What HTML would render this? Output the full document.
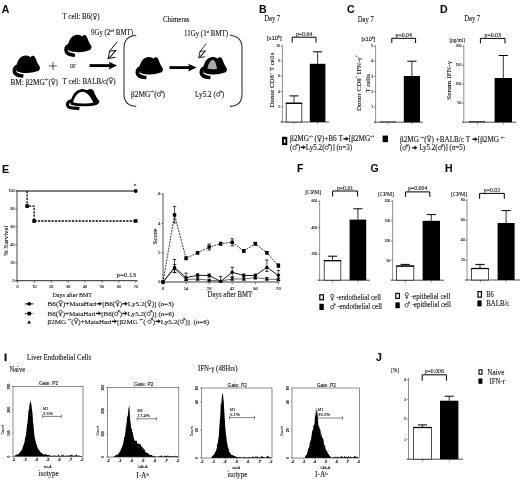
<!DOCTYPE html>
<html><head><meta charset="utf-8"><title>Figure</title>
<style>
html,body{margin:0;padding:0;background:#fff;}
body{width:520px;height:480px;overflow:hidden;}
svg{display:block;}
text{font-family:"Liberation Serif", serif;fill:#111;stroke:#111;stroke-width:0.1px;}
text.s{font-family:"Liberation Sans", sans-serif;}
</style></head><body>
<svg width="520" height="480" viewBox="0 0 520 480">
<rect width="520" height="480" fill="#fff"/>
<filter id="bl" x="0" y="0" width="520" height="480" filterUnits="userSpaceOnUse"><feGaussianBlur stdDeviation="0.45"/></filter>
<g filter="url(#bl)">
<defs>
<g id="mb"><path d="M5.6,11.4 C2.6,12 1.6,15.4 3,18 C4.6,20.8 8,20.4 11.4,21" fill="none" stroke="#000" stroke-width="3.7"/>
<path d="M3.9,12.4 C4.6,8.5 6.6,3 10,1.5 C12.4,0.2 15.2,0.1 17.2,1.3 L18.7,2.2 C19.4,0.5 21.8,0.2 22.6,1.6 C23.8,3.4 24.4,6.2 26,9 C27.2,10.8 28,11.8 27.9,12.9 C27.8,14.6 27,15.6 25.8,16.1 C22.6,17.4 18,18 14.9,18 C11,18 8,17.6 6,16.8 C4.2,16 3.5,14 3.9,12.4 Z" fill="#000"/><path d="M5.8,17.4 C8,18.6 11,18.9 13.4,18.9" fill="none" stroke="#fff" stroke-width="0.9"/></g>
</defs>
<text x="1.8" y="12.6" font-size="10.5" class="s" font-weight="bold" fill="#000" stroke="none" >A</text>
<g transform="translate(92.59,19.4) scale(1.119,1.184)" fill="none" stroke="#111" stroke-width="0.62"><circle cx="2.05" cy="-3.55" r="1.45"/><path d="M2.05,-2.1 V0.5 M0.95,-0.8 H3.15"/></g>
<text font-size="7.4"><tspan x="62.30" y="19.4" textLength="30.29" lengthAdjust="spacingAndGlyphs">T cell: B6(</tspan><tspan x="97.17" y="19.4" textLength="2.33" lengthAdjust="spacingAndGlyphs">)</tspan></text>
<text font-size="7.4"><tspan x="91.00" y="35.4" textLength="19.30" lengthAdjust="spacingAndGlyphs">9Gy (2</tspan><tspan x="110.30" y="32.29" font-size="4.07" textLength="3.78" lengthAdjust="spacingAndGlyphs">nd</tspan><tspan x="114.08" y="35.4" textLength="18.92" lengthAdjust="spacingAndGlyphs"> BMT)</tspan></text>
<text x="163" y="21.8" font-size="7.4" textLength="26.5" lengthAdjust="spacingAndGlyphs" >Chimeras</text>
<text font-size="7.4"><tspan x="184.00" y="36.4" textLength="22.65" lengthAdjust="spacingAndGlyphs">11Gy (1</tspan><tspan x="206.65" y="33.29" font-size="4.07" textLength="2.51" lengthAdjust="spacingAndGlyphs">st</tspan><tspan x="209.16" y="36.4" textLength="18.84" lengthAdjust="spacingAndGlyphs"> BMT)</tspan></text>
<use href="#mb" x="12" y="55"/>
<use href="#mb" x="63.6" y="34.2"/>
<line x1="49.2" y1="66" x2="56.8" y2="66" stroke="#222" stroke-width="0.8" />
<line x1="53" y1="62.2" x2="53" y2="69.8" stroke="#222" stroke-width="0.8" />
<text x="70" y="67.6" font-size="7.4" textLength="5.6" lengthAdjust="spacingAndGlyphs" >or</text>
<line x1="89.5" y1="65.6" x2="111.1" y2="65.6" stroke="#000" stroke-width="2.9" />
<path d="M117.1,65.6 L108.69999999999999,61.699999999999996 L110.3,65.6 L108.69999999999999,69.6 Z" fill="#000"/>
<g transform="translate(116.8,42.3) scale(1.0)" fill="none" stroke="#111" stroke-width="1.0" stroke-linejoin="round" stroke-linecap="round"><path d="M0,0 L-7.2,8.9 L-0.6,8.1 L-8.6,16.3 L-7.2,8.9 M-8.6,16.3 L-1.8,15 M-1.9,9 L-6.4,15"/></g>
<g transform="translate(50.82,84.6) scale(1.161,1.184)" fill="none" stroke="#111" stroke-width="0.62"><circle cx="2.05" cy="-3.55" r="1.45"/><path d="M2.05,-2.1 V0.5 M0.95,-0.8 H3.15"/></g>
<text font-size="7.4"><tspan x="10.50" y="84.6" textLength="34.14" lengthAdjust="spacingAndGlyphs">BM: β2MG</tspan><tspan x="44.64" y="81.49" font-size="4.07" textLength="3.77" lengthAdjust="spacingAndGlyphs">-/-</tspan><tspan x="48.41" y="84.6" textLength="2.42" lengthAdjust="spacingAndGlyphs">(</tspan><tspan x="55.58" y="84.6" textLength="2.42" lengthAdjust="spacingAndGlyphs">)</tspan></text>
<g transform="translate(108.55,83.6) scale(1.124,1.184)" fill="none" stroke="#111" stroke-width="0.62"><circle cx="2.05" cy="-3.55" r="1.45"/><path d="M2.05,-2.1 V0.5 M0.95,-0.8 H3.15"/></g>
<text font-size="7.4"><tspan x="62.50" y="83.6" textLength="46.05" lengthAdjust="spacingAndGlyphs">T cell: BALB/c(</tspan><tspan x="113.16" y="83.6" textLength="2.34" lengthAdjust="spacingAndGlyphs">)</tspan></text>
<g transform="translate(66.4,88.2)"><path d="M5,12.6 C1.2,13 0.2,16 1.8,18.2 C3.6,20.4 8,19.6 13,20.4" fill="none" stroke="#000" stroke-width="3.2"/><path d="M5.5,13 C7,8 10,3.4 14.5,2.4 C17.5,1.8 20,3 22,4.6 C25,7 29,10 31.5,13.4 C31,15.6 28,16 24,16.4 C18,17 10,16.6 5.5,15.4 Z" fill="#fff" stroke="#000" stroke-width="2.8" stroke-linejoin="round"/><path d="M19.6,3.6 C21.2,0.4 25.6,0 27,2.4 C28.2,4.8 29,8 32.4,12.6 C33.2,14.8 31.4,16.6 28,16.6 C26,12 23,7 19.6,3.6 Z" fill="#000"/></g>
<path d="M136.2,35.3 C128,36 124,40 124,48 V94 C124,102 128,106 136.2,106.4" fill="none" stroke="#333" stroke-width="1.1"/>
<path d="M230,35.3 C238,36 242,40 242,48 V94 C242,102 238,106 230,106.4" fill="none" stroke="#333" stroke-width="1.1"/>
<use href="#mb" x="135" y="56.5"/>
<line x1="169.5" y1="67.6" x2="190.6" y2="67.6" stroke="#000" stroke-width="2.9" />
<path d="M196.6,67.6 L188.2,63.699999999999996 L189.79999999999998,67.6 L188.2,71.6 Z" fill="#000"/>
<g transform="translate(206.2,43.8) scale(0.86)" fill="none" stroke="#111" stroke-width="1.0" stroke-linejoin="round" stroke-linecap="round"><path d="M0,0 L-7.2,8.9 L-0.6,8.1 L-8.6,16.3 L-7.2,8.9 M-8.6,16.3 L-1.8,15 M-1.9,9 L-6.4,15"/></g>
<use href="#mb" x="199" y="56.5"/>
<path d="M207.4,68.6 C208.2,64.6 210,60.6 212.6,59.8 C215,60.2 216.2,64 217,68.8 C213.8,69.6 210.4,69.4 207.4,68.6 Z" fill="#aaa"/>
<g transform="translate(156.64,96.6) scale(1.181,1.184)" fill="none" stroke="#111" stroke-width="0.62"><circle cx="1.95" cy="-1.75" r="1.5"/><path d="M3.0,-2.85 L4.5,-4.5 M3.1,-4.6 H4.6 V-3.1"/></g>
<text font-size="7.4"><tspan x="131.00" y="96.6" textLength="19.34" lengthAdjust="spacingAndGlyphs">β2MG</tspan><tspan x="150.34" y="93.49" font-size="4.07" textLength="3.83" lengthAdjust="spacingAndGlyphs">-/-</tspan><tspan x="154.18" y="96.6" textLength="2.46" lengthAdjust="spacingAndGlyphs">(</tspan><tspan x="162.54" y="96.6" textLength="2.46" lengthAdjust="spacingAndGlyphs">)</tspan></text>
<g transform="translate(215.94,96.6) scale(1.138,1.184)" fill="none" stroke="#111" stroke-width="0.62"><circle cx="1.95" cy="-1.75" r="1.5"/><path d="M3.0,-2.85 L4.5,-4.5 M3.1,-4.6 H4.6 V-3.1"/></g>
<text font-size="7.4"><tspan x="195.00" y="96.6" textLength="20.94" lengthAdjust="spacingAndGlyphs">Ly5.2 (</tspan><tspan x="221.63" y="96.6" textLength="2.37" lengthAdjust="spacingAndGlyphs">)</tspan></text>
<text x="259" y="12.6" font-size="10.5" class="s" font-weight="bold" fill="#000" stroke="none" >B</text>
<text x="264.2" y="20.8" font-size="7.2" textLength="16" lengthAdjust="spacingAndGlyphs" >Day 7</text>
<text x="266.8" y="40.4" font-size="5.4" class="s" textLength="14.9" lengthAdjust="spacingAndGlyphs" fill="#222" stroke="none" >[x10<tspan font-size="3.2" dy="-2">6</tspan><tspan dy="2" font-size="0.1">&#8203;</tspan>]</text>
<path d="M292.2,42.6 V37.2 H316 V42.6" fill="none" stroke="#000" stroke-width="1.0"/>
<text x="304.1" y="35.7" font-size="5.8" text-anchor="middle" fill="#222" stroke="none" >p=0.04</text>
<line x1="282.4" y1="45.3" x2="282.4" y2="122" stroke="#444" stroke-width="0.6" />
<line x1="280.9" y1="122" x2="329" y2="122" stroke="#222" stroke-width="0.8" />
<line x1="280.59999999999997" y1="45.8" x2="282.4" y2="45.8" stroke="#444" stroke-width="0.6" />
<text x="280.0" y="47.0" font-size="3.4" class="s" text-anchor="end" fill="#888" stroke="none" >10</text>
<line x1="280.59999999999997" y1="61" x2="282.4" y2="61" stroke="#444" stroke-width="0.6" />
<text x="280.0" y="62.2" font-size="3.4" class="s" text-anchor="end" fill="#888" stroke="none" >8</text>
<line x1="280.59999999999997" y1="76.2" x2="282.4" y2="76.2" stroke="#444" stroke-width="0.6" />
<text x="280.0" y="77.4" font-size="3.4" class="s" text-anchor="end" fill="#888" stroke="none" >6</text>
<line x1="280.59999999999997" y1="91.5" x2="282.4" y2="91.5" stroke="#444" stroke-width="0.6" />
<text x="280.0" y="92.7" font-size="3.4" class="s" text-anchor="end" fill="#888" stroke="none" >4</text>
<line x1="280.59999999999997" y1="106.8" x2="282.4" y2="106.8" stroke="#444" stroke-width="0.6" />
<text x="280.0" y="108.0" font-size="3.4" class="s" text-anchor="end" fill="#888" stroke="none" >2</text>
<line x1="280.59999999999997" y1="122" x2="282.4" y2="122" stroke="#444" stroke-width="0.6" />
<text x="280.0" y="123.2" font-size="3.4" class="s" text-anchor="end" fill="#888" stroke="none" ></text>
<line x1="294.1" y1="122" x2="294.1" y2="124.2" stroke="#444" stroke-width="0.6" />
<line x1="317.6" y1="122" x2="317.6" y2="124.2" stroke="#444" stroke-width="0.6" />
<line x1="294.0" y1="95.9" x2="294.0" y2="102.8" stroke="#000" stroke-width="0.8" />
<line x1="289.4" y1="95.9" x2="298.6" y2="95.9" stroke="#000" stroke-width="1.0" />
<rect x="286.2" y="103.2" width="15.599999999999977" height="18.800000000000004" fill="#fff" stroke="#222" stroke-width="0.8"/>
<line x1="285.8" y1="103.3" x2="302.2" y2="103.3" stroke="#000" stroke-width="1.3" />
<line x1="317.6" y1="51.8" x2="317.6" y2="63.8" stroke="#000" stroke-width="0.8" />
<line x1="313.0" y1="51.8" x2="322.20000000000005" y2="51.8" stroke="#000" stroke-width="1.0" />
<rect x="309.8" y="63.8" width="15.599999999999966" height="58.2" fill="#000"/>
<text x="274" y="80" font-size="6.7" text-anchor="middle" textLength="55" lengthAdjust="spacingAndGlyphs" transform="rotate(-90 274 80)" >Donor CD8<tspan font-size="3.8" dy="-2.4">+</tspan><tspan dy="2.4" font-size="0.1">&#8203;</tspan> T cells</text>
<text x="347" y="12.6" font-size="10.5" class="s" font-weight="bold" fill="#000" stroke="none" >C</text>
<text x="357.8" y="21.6" font-size="7.2" textLength="16" lengthAdjust="spacingAndGlyphs" >Day 7</text>
<text x="361.4" y="40.9" font-size="5.2" class="s" textLength="14" lengthAdjust="spacingAndGlyphs" fill="#222" stroke="none" >[x10<tspan font-size="3.2" dy="-2">6</tspan><tspan dy="2" font-size="0.1">&#8203;</tspan>]</text>
<path d="M391.8,43 V38.3 H415.6 V43" fill="none" stroke="#000" stroke-width="1.0"/>
<text x="403.70000000000005" y="36.8" font-size="5.8" text-anchor="middle" fill="#222" stroke="none" >p=0.04</text>
<line x1="375.6" y1="45.5" x2="375.6" y2="122.2" stroke="#444" stroke-width="0.6" />
<line x1="374.1" y1="122.2" x2="423" y2="122.2" stroke="#222" stroke-width="0.8" />
<line x1="373.8" y1="46" x2="375.6" y2="46" stroke="#444" stroke-width="0.6" />
<text x="373.20000000000005" y="47.2" font-size="3.4" class="s" text-anchor="end" fill="#888" stroke="none" >5</text>
<line x1="373.8" y1="61.2" x2="375.6" y2="61.2" stroke="#444" stroke-width="0.6" />
<text x="373.20000000000005" y="62.400000000000006" font-size="3.4" class="s" text-anchor="end" fill="#888" stroke="none" >4</text>
<line x1="373.8" y1="76.4" x2="375.6" y2="76.4" stroke="#444" stroke-width="0.6" />
<text x="373.20000000000005" y="77.60000000000001" font-size="3.4" class="s" text-anchor="end" fill="#888" stroke="none" >3</text>
<line x1="373.8" y1="91.7" x2="375.6" y2="91.7" stroke="#444" stroke-width="0.6" />
<text x="373.20000000000005" y="92.9" font-size="3.4" class="s" text-anchor="end" fill="#888" stroke="none" >2</text>
<line x1="373.8" y1="107" x2="375.6" y2="107" stroke="#444" stroke-width="0.6" />
<text x="373.20000000000005" y="108.2" font-size="3.4" class="s" text-anchor="end" fill="#888" stroke="none" >1</text>
<line x1="373.8" y1="122.2" x2="375.6" y2="122.2" stroke="#444" stroke-width="0.6" />
<text x="373.20000000000005" y="123.4" font-size="3.4" class="s" text-anchor="end" fill="#888" stroke="none" ></text>
<line x1="388" y1="122.2" x2="388" y2="124.4" stroke="#444" stroke-width="0.6" />
<line x1="412" y1="122.2" x2="412" y2="124.4" stroke="#444" stroke-width="0.6" />
<rect x="380" y="121.6" width="16" height="0.6000000000000085" fill="#000"/>
<line x1="411.9" y1="61.2" x2="411.9" y2="76" stroke="#000" stroke-width="0.8" />
<line x1="407.29999999999995" y1="61.2" x2="416.5" y2="61.2" stroke="#000" stroke-width="1.0" />
<rect x="403.8" y="76" width="16.19999999999999" height="46.2" fill="#000"/>
<text x="360.8" y="83.1" font-size="6.7" text-anchor="middle" textLength="56" lengthAdjust="spacingAndGlyphs" transform="rotate(-90 360.8 83.1)" >Donor CD8<tspan font-size="3.8" dy="-2.4">+</tspan><tspan dy="2.4" font-size="0.1">&#8203;</tspan> IFN-γ<tspan font-size="3.8" dy="-2.4">+</tspan><tspan dy="2.4" font-size="0.1">&#8203;</tspan></text>
<text x="370" y="83.3" font-size="6.7" text-anchor="middle" textLength="18.3" lengthAdjust="spacingAndGlyphs" transform="rotate(-90 370 83.3)" >T cells</text>
<text x="440" y="12.6" font-size="10.5" class="s" font-weight="bold" fill="#000" stroke="none" >D</text>
<text x="464.2" y="21.3" font-size="7.2" textLength="16" lengthAdjust="spacingAndGlyphs" >Day 7</text>
<text x="449.5" y="41.8" font-size="5.6" textLength="15.4" lengthAdjust="spacingAndGlyphs" >[pg/ml]</text>
<path d="M480.4,43.4 V38.4 H505 V43.4" fill="none" stroke="#000" stroke-width="1.0"/>
<text x="492.7" y="36.9" font-size="5.8" text-anchor="middle" fill="#222" stroke="none" >p=0.03</text>
<line x1="463.8" y1="45.5" x2="463.8" y2="122.2" stroke="#444" stroke-width="0.6" />
<line x1="462.3" y1="122.2" x2="516" y2="122.2" stroke="#222" stroke-width="0.8" />
<line x1="462.0" y1="46.2" x2="463.8" y2="46.2" stroke="#444" stroke-width="0.6" />
<text x="461.40000000000003" y="47.400000000000006" font-size="3.4" class="s" text-anchor="end" fill="#888" stroke="none" >200</text>
<line x1="462.0" y1="65.2" x2="463.8" y2="65.2" stroke="#444" stroke-width="0.6" />
<text x="461.40000000000003" y="66.4" font-size="3.4" class="s" text-anchor="end" fill="#888" stroke="none" >150</text>
<line x1="462.0" y1="84.2" x2="463.8" y2="84.2" stroke="#444" stroke-width="0.6" />
<text x="461.40000000000003" y="85.4" font-size="3.4" class="s" text-anchor="end" fill="#888" stroke="none" >100</text>
<line x1="462.0" y1="103.2" x2="463.8" y2="103.2" stroke="#444" stroke-width="0.6" />
<text x="461.40000000000003" y="104.4" font-size="3.4" class="s" text-anchor="end" fill="#888" stroke="none" >50</text>
<line x1="462.0" y1="122.2" x2="463.8" y2="122.2" stroke="#444" stroke-width="0.6" />
<text x="461.40000000000003" y="123.4" font-size="3.4" class="s" text-anchor="end" fill="#888" stroke="none" ></text>
<line x1="477.5" y1="122.2" x2="477.5" y2="124.4" stroke="#444" stroke-width="0.6" />
<line x1="503.6" y1="122.2" x2="503.6" y2="124.4" stroke="#444" stroke-width="0.6" />
<rect x="468.8" y="121.4" width="16.19999999999999" height="0.7999999999999972" fill="#000"/>
<line x1="503.3" y1="55.5" x2="503.3" y2="78" stroke="#000" stroke-width="0.8" />
<line x1="498.7" y1="55.5" x2="507.90000000000003" y2="55.5" stroke="#000" stroke-width="1.0" />
<rect x="494.6" y="78" width="17.399999999999977" height="44.2" fill="#000"/>
<text x="451" y="80.5" font-size="6.7" text-anchor="middle" textLength="39" lengthAdjust="spacingAndGlyphs" transform="rotate(-90 451 80.5)" >Serum IFN-γ</text>
<rect x="282" y="136.8" width="5.3" height="8.3" fill="#000"/>
<rect x="283.9" y="139.3" width="1.5" height="3.6" fill="#fff"/>
<g transform="translate(317.01,141.3) scale(1.161,1.184)" fill="none" stroke="#111" stroke-width="0.62"><circle cx="2.05" cy="-3.55" r="1.45"/><path d="M2.05,-2.1 V0.5 M0.95,-0.8 H3.15"/></g>
<g transform="translate(343.00,141.3) scale(1.161,1.184)" fill="none" stroke="#111" stroke-width="0.62"><path d="M0.3,-2.1 H3.4" stroke-width="1.25"/><path d="M5.0,-2.1 L2.2,-4.2 L3.0,-2.1 L2.2,0 Z" fill="#111" stroke="none"/></g>
<text font-size="7.4"><tspan x="290.00" y="141.3" textLength="19.01" lengthAdjust="spacingAndGlyphs">β2MG</tspan><tspan x="309.01" y="138.19" font-size="4.07" textLength="3.77" lengthAdjust="spacingAndGlyphs">-/-</tspan><tspan x="312.78" y="141.3" textLength="4.23" lengthAdjust="spacingAndGlyphs"> (</tspan><tspan x="321.77" y="141.3" textLength="21.22" lengthAdjust="spacingAndGlyphs">)+B6 T</tspan><tspan x="348.80" y="141.3" textLength="21.43" lengthAdjust="spacingAndGlyphs">[β2MG</tspan><tspan x="370.23" y="138.19" font-size="4.07" textLength="3.77" lengthAdjust="spacingAndGlyphs">-/-</tspan></text>
<g transform="translate(292.32,149.8) scale(1.114,1.184)" fill="none" stroke="#111" stroke-width="0.62"><circle cx="1.95" cy="-1.75" r="1.5"/><path d="M3.0,-2.85 L4.5,-4.5 M3.1,-4.6 H4.6 V-3.1"/></g>
<g transform="translate(300.21,149.8) scale(1.114,1.184)" fill="none" stroke="#111" stroke-width="0.62"><path d="M0.3,-2.1 H3.4" stroke-width="1.25"/><path d="M5.0,-2.1 L2.2,-4.2 L3.0,-2.1 L2.2,0 Z" fill="#111" stroke="none"/></g>
<g transform="translate(324.53,149.8) scale(1.114,1.184)" fill="none" stroke="#111" stroke-width="0.62"><circle cx="1.95" cy="-1.75" r="1.5"/><path d="M3.0,-2.85 L4.5,-4.5 M3.1,-4.6 H4.6 V-3.1"/></g>
<text font-size="7.4"><tspan x="290.00" y="149.8" textLength="2.32" lengthAdjust="spacingAndGlyphs">(</tspan><tspan x="297.89" y="149.8" textLength="2.32" lengthAdjust="spacingAndGlyphs">)</tspan><tspan x="305.78" y="149.8" textLength="18.75" lengthAdjust="spacingAndGlyphs">Ly5.2(</tspan><tspan x="330.10" y="149.8" textLength="21.90" lengthAdjust="spacingAndGlyphs">)] (n=3)</tspan></text>
<rect x="382.6" y="135.6" width="5.4" height="6.6" fill="#000"/>
<g transform="translate(426.74,141.7) scale(1.149,1.184)" fill="none" stroke="#111" stroke-width="0.62"><circle cx="2.05" cy="-3.55" r="1.45"/><path d="M2.05,-2.1 V0.5 M0.95,-0.8 H3.15"/></g>
<g transform="translate(472.01,141.7) scale(1.149,1.184)" fill="none" stroke="#111" stroke-width="0.62"><path d="M0.3,-2.1 H3.4" stroke-width="1.25"/><path d="M5.0,-2.1 L2.2,-4.2 L3.0,-2.1 L2.2,0 Z" fill="#111" stroke="none"/></g>
<text font-size="7.4"><tspan x="400.00" y="141.7" textLength="20.62" lengthAdjust="spacingAndGlyphs">β2MG </tspan><tspan x="420.62" y="138.59" font-size="4.07" textLength="3.73" lengthAdjust="spacingAndGlyphs">-/-</tspan><tspan x="424.35" y="141.7" textLength="2.39" lengthAdjust="spacingAndGlyphs">(</tspan><tspan x="431.45" y="141.7" textLength="40.56" lengthAdjust="spacingAndGlyphs">) +BALB/c T </tspan><tspan x="477.76" y="141.7" textLength="23.01" lengthAdjust="spacingAndGlyphs">[β2MG </tspan><tspan x="500.77" y="138.59" font-size="4.07" textLength="3.73" lengthAdjust="spacingAndGlyphs">-/-</tspan></text>
<g transform="translate(402.30,150.3) scale(1.106,1.184)" fill="none" stroke="#111" stroke-width="0.62"><circle cx="1.95" cy="-1.75" r="1.5"/><path d="M3.0,-2.85 L4.5,-4.5 M3.1,-4.6 H4.6 V-3.1"/></g>
<g transform="translate(411.86,150.3) scale(1.106,1.184)" fill="none" stroke="#111" stroke-width="0.62"><path d="M0.3,-2.1 H3.4" stroke-width="1.25"/><path d="M5.0,-2.1 L2.2,-4.2 L3.0,-2.1 L2.2,0 Z" fill="#111" stroke="none"/></g>
<g transform="translate(437.73,150.3) scale(1.106,1.184)" fill="none" stroke="#111" stroke-width="0.62"><circle cx="1.95" cy="-1.75" r="1.5"/><path d="M3.0,-2.85 L4.5,-4.5 M3.1,-4.6 H4.6 V-3.1"/></g>
<text font-size="7.4"><tspan x="400.00" y="150.3" textLength="2.30" lengthAdjust="spacingAndGlyphs">(</tspan><tspan x="407.83" y="150.3" textLength="4.03" lengthAdjust="spacingAndGlyphs">) </tspan><tspan x="417.39" y="150.3" textLength="20.34" lengthAdjust="spacingAndGlyphs"> Ly5.2(</tspan><tspan x="443.26" y="150.3" textLength="21.74" lengthAdjust="spacingAndGlyphs">)] (n=5)</tspan></text>
<text x="2" y="173" font-size="10.5" class="s" font-weight="bold" fill="#000" stroke="none" >E</text>
<line x1="17" y1="190" x2="17" y2="281.2" stroke="#111" stroke-width="0.8" />
<line x1="15.5" y1="280.7" x2="137.6" y2="280.7" stroke="#111" stroke-width="0.9" />
<line x1="15.2" y1="191.0" x2="17" y2="191.0" stroke="#333" stroke-width="0.6" />
<text x="14.6" y="192.3" font-size="3.6" class="s" text-anchor="end" fill="#444" stroke="none" >100</text>
<line x1="15.2" y1="208.94" x2="17" y2="208.94" stroke="#333" stroke-width="0.6" />
<text x="14.6" y="210.24" font-size="3.6" class="s" text-anchor="end" fill="#444" stroke="none" >80</text>
<line x1="15.2" y1="226.88" x2="17" y2="226.88" stroke="#333" stroke-width="0.6" />
<text x="14.6" y="228.18" font-size="3.6" class="s" text-anchor="end" fill="#444" stroke="none" >60</text>
<line x1="15.2" y1="244.82" x2="17" y2="244.82" stroke="#333" stroke-width="0.6" />
<text x="14.6" y="246.12" font-size="3.6" class="s" text-anchor="end" fill="#444" stroke="none" >40</text>
<line x1="15.2" y1="262.76" x2="17" y2="262.76" stroke="#333" stroke-width="0.6" />
<text x="14.6" y="264.06" font-size="3.6" class="s" text-anchor="end" fill="#444" stroke="none" >20</text>
<line x1="15.2" y1="280.7" x2="17" y2="280.7" stroke="#333" stroke-width="0.6" />
<text x="14.6" y="282.0" font-size="3.6" class="s" text-anchor="end" fill="#444" stroke="none" >0</text>
<line x1="17.5" y1="280.6" x2="17.5" y2="283" stroke="#333" stroke-width="0.6" />
<text x="17.5" y="288.4" font-size="3.6" class="s" text-anchor="middle" fill="#444" stroke="none" >0</text>
<line x1="34.4" y1="280.6" x2="34.4" y2="283" stroke="#333" stroke-width="0.6" />
<text x="34.4" y="288.4" font-size="3.6" class="s" text-anchor="middle" fill="#444" stroke="none" >10</text>
<line x1="51.3" y1="280.6" x2="51.3" y2="283" stroke="#333" stroke-width="0.6" />
<text x="51.3" y="288.4" font-size="3.6" class="s" text-anchor="middle" fill="#444" stroke="none" >20</text>
<line x1="68.19999999999999" y1="280.6" x2="68.19999999999999" y2="283" stroke="#333" stroke-width="0.6" />
<text x="68.19999999999999" y="288.4" font-size="3.6" class="s" text-anchor="middle" fill="#444" stroke="none" >30</text>
<line x1="85.1" y1="280.6" x2="85.1" y2="283" stroke="#333" stroke-width="0.6" />
<text x="85.1" y="288.4" font-size="3.6" class="s" text-anchor="middle" fill="#444" stroke="none" >40</text>
<line x1="102.0" y1="280.6" x2="102.0" y2="283" stroke="#333" stroke-width="0.6" />
<text x="102.0" y="288.4" font-size="3.6" class="s" text-anchor="middle" fill="#444" stroke="none" >50</text>
<line x1="118.89999999999999" y1="280.6" x2="118.89999999999999" y2="283" stroke="#333" stroke-width="0.6" />
<text x="118.89999999999999" y="288.4" font-size="3.6" class="s" text-anchor="middle" fill="#444" stroke="none" >60</text>
<line x1="135.79999999999998" y1="280.6" x2="135.79999999999998" y2="283" stroke="#333" stroke-width="0.6" />
<text x="135.79999999999998" y="288.4" font-size="3.6" class="s" text-anchor="middle" fill="#444" stroke="none" >70</text>
<line x1="17" y1="191" x2="135.7" y2="191" stroke="#000" stroke-width="1.0" />
<circle cx="135.7" cy="191" r="2" fill="#000"/>
<path d="M134.9,183.6 l1.1,2 h-2.2 z" fill="#000"/>
<path d="M27.1,191 V206.1 H34.1 V221 H135.7" fill="none" stroke="#000" stroke-width="1.3" stroke-dasharray="2.2,1.2"/>
<rect x="25.3" y="204.29999999999998" width="3.6" height="3.6" fill="#000"/>
<rect x="32.300000000000004" y="219.2" width="3.6" height="3.6" fill="#000"/>
<rect x="133.89999999999998" y="219.2" width="3.6" height="3.6" fill="#000"/>
<text x="116.6" y="277.2" font-size="6.6" textLength="19.2" lengthAdjust="spacingAndGlyphs" >p=0.13</text>
<text x="8" y="240.8" font-size="6.9" text-anchor="middle" textLength="30.4" lengthAdjust="spacingAndGlyphs" transform="rotate(-90 8 240.8)" >% Survival</text>
<text x="52.5" y="297.2" font-size="6.4" textLength="39.5" lengthAdjust="spacingAndGlyphs" >Days after BMT</text>
<line x1="163" y1="193.4" x2="163" y2="282.6" stroke="#222" stroke-width="0.8" />
<line x1="161.4" y1="282" x2="279.4" y2="282" stroke="#222" stroke-width="0.9" />
<line x1="161.2" y1="194.0" x2="163" y2="194.0" stroke="#333" stroke-width="0.6" />
<text x="160.4" y="195.4" font-size="3.8" class="s" text-anchor="end" fill="#444" stroke="none" >6</text>
<line x1="161.2" y1="223.35" x2="163" y2="223.35" stroke="#333" stroke-width="0.6" />
<text x="160.4" y="224.75" font-size="3.8" class="s" text-anchor="end" fill="#444" stroke="none" >4</text>
<line x1="161.2" y1="252.7" x2="163" y2="252.7" stroke="#333" stroke-width="0.6" />
<text x="160.4" y="254.1" font-size="3.8" class="s" text-anchor="end" fill="#444" stroke="none" >2</text>
<line x1="161.2" y1="282.05" x2="163" y2="282.05" stroke="#333" stroke-width="0.6" />
<text x="160.4" y="283.45" font-size="3.8" class="s" text-anchor="end" fill="#444" stroke="none" >0</text>
<line x1="163.0" y1="282" x2="163.0" y2="284.4" stroke="#333" stroke-width="0.6" />
<text x="163.0" y="290.3" font-size="4.6" text-anchor="middle" fill="#222" stroke="none" >0</text>
<line x1="186.07999999999998" y1="282" x2="186.07999999999998" y2="284.4" stroke="#333" stroke-width="0.6" />
<text x="186.07999999999998" y="290.3" font-size="4.6" text-anchor="middle" fill="#222" stroke="none" >14</text>
<line x1="209.16" y1="282" x2="209.16" y2="284.4" stroke="#333" stroke-width="0.6" />
<text x="209.16" y="290.3" font-size="4.6" text-anchor="middle" fill="#222" stroke="none" >28</text>
<line x1="232.24" y1="282" x2="232.24" y2="284.4" stroke="#333" stroke-width="0.6" />
<text x="232.24" y="290.3" font-size="4.6" text-anchor="middle" fill="#222" stroke="none" >42</text>
<line x1="255.32" y1="282" x2="255.32" y2="284.4" stroke="#333" stroke-width="0.6" />
<text x="255.32" y="290.3" font-size="4.6" text-anchor="middle" fill="#222" stroke="none" >56</text>
<line x1="278.4" y1="282" x2="278.4" y2="284.4" stroke="#333" stroke-width="0.6" />
<text x="278.4" y="290.3" font-size="4.6" text-anchor="middle" fill="#222" stroke="none" >70</text>
<path d="M163.0,282.0 L174.5,268.6 L186.1,279.6 L197.6,279.0 L209.2,280.2 L220.7,281.0 L232.2,279.0 L243.8,279.0 L255.3,277.6 L266.9,279.0 L278.4,279.6" fill="none" stroke="#000" stroke-width="0.6"/>
<line x1="174.54" y1="264.6" x2="174.54" y2="272.6" stroke="#000" stroke-width="0.7" />
<line x1="172.84" y1="264.6" x2="176.23999999999998" y2="264.6" stroke="#000" stroke-width="0.8" />
<line x1="172.84" y1="272.6" x2="176.23999999999998" y2="272.6" stroke="#000" stroke-width="0.8" />
<line x1="186.07999999999998" y1="278.1" x2="186.07999999999998" y2="280.6" stroke="#000" stroke-width="0.7" />
<line x1="184.38" y1="278.1" x2="187.77999999999997" y2="278.1" stroke="#000" stroke-width="0.8" />
<line x1="184.38" y1="280.6" x2="187.77999999999997" y2="280.6" stroke="#000" stroke-width="0.8" />
<line x1="197.62" y1="277.8" x2="197.62" y2="280" stroke="#000" stroke-width="0.7" />
<line x1="195.92000000000002" y1="277.8" x2="199.32" y2="277.8" stroke="#000" stroke-width="0.8" />
<line x1="195.92000000000002" y1="280" x2="199.32" y2="280" stroke="#000" stroke-width="0.8" />
<line x1="209.16" y1="279.2" x2="209.16" y2="281.2" stroke="#000" stroke-width="0.7" />
<line x1="207.46" y1="279.2" x2="210.85999999999999" y2="279.2" stroke="#000" stroke-width="0.8" />
<line x1="207.46" y1="281.2" x2="210.85999999999999" y2="281.2" stroke="#000" stroke-width="0.8" />
<line x1="232.24" y1="277.5" x2="232.24" y2="280" stroke="#000" stroke-width="0.7" />
<line x1="230.54000000000002" y1="277.5" x2="233.94" y2="277.5" stroke="#000" stroke-width="0.8" />
<line x1="230.54000000000002" y1="280" x2="233.94" y2="280" stroke="#000" stroke-width="0.8" />
<line x1="243.78" y1="277.8" x2="243.78" y2="280" stroke="#000" stroke-width="0.7" />
<line x1="242.08" y1="277.8" x2="245.48" y2="277.8" stroke="#000" stroke-width="0.8" />
<line x1="242.08" y1="280" x2="245.48" y2="280" stroke="#000" stroke-width="0.8" />
<line x1="255.32" y1="276.1" x2="255.32" y2="279.1" stroke="#000" stroke-width="0.7" />
<line x1="253.62" y1="276.1" x2="257.02" y2="276.1" stroke="#000" stroke-width="0.8" />
<line x1="253.62" y1="279.1" x2="257.02" y2="279.1" stroke="#000" stroke-width="0.8" />
<line x1="266.86" y1="277.5" x2="266.86" y2="280" stroke="#000" stroke-width="0.7" />
<line x1="265.16" y1="277.5" x2="268.56" y2="277.5" stroke="#000" stroke-width="0.8" />
<line x1="265.16" y1="280" x2="268.56" y2="280" stroke="#000" stroke-width="0.8" />
<line x1="278.4" y1="278.1" x2="278.4" y2="280.6" stroke="#000" stroke-width="0.7" />
<line x1="276.7" y1="278.1" x2="280.09999999999997" y2="278.1" stroke="#000" stroke-width="0.8" />
<line x1="276.7" y1="280.6" x2="280.09999999999997" y2="280.6" stroke="#000" stroke-width="0.8" />
<path d="M163.0,280.1 l1.9,3.3 h-3.8 z" fill="#000"/>
<path d="M174.5,266.7 l1.9,3.3 h-3.8 z" fill="#000"/>
<path d="M186.1,277.7 l1.9,3.3 h-3.8 z" fill="#000"/>
<path d="M197.6,277.1 l1.9,3.3 h-3.8 z" fill="#000"/>
<path d="M209.2,278.3 l1.9,3.3 h-3.8 z" fill="#000"/>
<path d="M220.7,279.1 l1.9,3.3 h-3.8 z" fill="#000"/>
<path d="M232.2,277.1 l1.9,3.3 h-3.8 z" fill="#000"/>
<path d="M243.8,277.1 l1.9,3.3 h-3.8 z" fill="#000"/>
<path d="M255.3,275.7 l1.9,3.3 h-3.8 z" fill="#000"/>
<path d="M266.9,277.1 l1.9,3.3 h-3.8 z" fill="#000"/>
<path d="M278.4,277.7 l1.9,3.3 h-3.8 z" fill="#000"/>
<path d="M163.0,282.0 L174.5,267.4 L186.1,277.6 L197.6,275.3 L209.2,275.5 L220.7,281.4 L232.2,272.3 L243.8,275.5 L255.3,275.5 L266.9,267.4 L278.4,275.3" fill="none" stroke="#000" stroke-width="0.9"/>
<line x1="174.54" y1="259.4" x2="174.54" y2="272.4" stroke="#000" stroke-width="0.7" />
<line x1="172.84" y1="259.4" x2="176.23999999999998" y2="259.4" stroke="#000" stroke-width="0.8" />
<line x1="172.84" y1="272.4" x2="176.23999999999998" y2="272.4" stroke="#000" stroke-width="0.8" />
<line x1="186.07999999999998" y1="273.1" x2="186.07999999999998" y2="279.6" stroke="#000" stroke-width="0.7" />
<line x1="184.38" y1="273.1" x2="187.77999999999997" y2="273.1" stroke="#000" stroke-width="0.8" />
<line x1="184.38" y1="279.6" x2="187.77999999999997" y2="279.6" stroke="#000" stroke-width="0.8" />
<line x1="197.62" y1="273.8" x2="197.62" y2="276.8" stroke="#000" stroke-width="0.7" />
<line x1="195.92000000000002" y1="273.8" x2="199.32" y2="273.8" stroke="#000" stroke-width="0.8" />
<line x1="195.92000000000002" y1="276.8" x2="199.32" y2="276.8" stroke="#000" stroke-width="0.8" />
<line x1="209.16" y1="274.0" x2="209.16" y2="277.0" stroke="#000" stroke-width="0.7" />
<line x1="207.46" y1="274.0" x2="210.85999999999999" y2="274.0" stroke="#000" stroke-width="0.8" />
<line x1="207.46" y1="277.0" x2="210.85999999999999" y2="277.0" stroke="#000" stroke-width="0.8" />
<line x1="220.7" y1="276.4" x2="220.7" y2="281.4" stroke="#000" stroke-width="0.7" />
<line x1="219.0" y1="276.4" x2="222.39999999999998" y2="276.4" stroke="#000" stroke-width="0.8" />
<line x1="232.24" y1="267.3" x2="232.24" y2="276.8" stroke="#000" stroke-width="0.7" />
<line x1="230.54000000000002" y1="267.3" x2="233.94" y2="267.3" stroke="#000" stroke-width="0.8" />
<line x1="230.54000000000002" y1="276.8" x2="233.94" y2="276.8" stroke="#000" stroke-width="0.8" />
<line x1="243.78" y1="274.0" x2="243.78" y2="277.0" stroke="#000" stroke-width="0.7" />
<line x1="242.08" y1="274.0" x2="245.48" y2="274.0" stroke="#000" stroke-width="0.8" />
<line x1="242.08" y1="277.0" x2="245.48" y2="277.0" stroke="#000" stroke-width="0.8" />
<line x1="255.32" y1="274.0" x2="255.32" y2="277.0" stroke="#000" stroke-width="0.7" />
<line x1="253.62" y1="274.0" x2="257.02" y2="274.0" stroke="#000" stroke-width="0.8" />
<line x1="253.62" y1="277.0" x2="257.02" y2="277.0" stroke="#000" stroke-width="0.8" />
<line x1="266.86" y1="260.0" x2="266.86" y2="271.4" stroke="#000" stroke-width="0.7" />
<line x1="265.16" y1="260.0" x2="268.56" y2="260.0" stroke="#000" stroke-width="0.8" />
<line x1="265.16" y1="271.4" x2="268.56" y2="271.4" stroke="#000" stroke-width="0.8" />
<line x1="278.4" y1="270.3" x2="278.4" y2="278.3" stroke="#000" stroke-width="0.7" />
<line x1="276.7" y1="270.3" x2="280.09999999999997" y2="270.3" stroke="#000" stroke-width="0.8" />
<line x1="276.7" y1="278.3" x2="280.09999999999997" y2="278.3" stroke="#000" stroke-width="0.8" />
<circle cx="163.0" cy="282.0" r="1.7" fill="#000"/>
<circle cx="174.5" cy="267.4" r="1.7" fill="#000"/>
<circle cx="186.1" cy="277.6" r="1.7" fill="#000"/>
<circle cx="197.6" cy="275.3" r="1.7" fill="#000"/>
<circle cx="209.2" cy="275.5" r="1.7" fill="#000"/>
<circle cx="220.7" cy="281.4" r="1.7" fill="#000"/>
<circle cx="232.2" cy="272.3" r="1.7" fill="#000"/>
<circle cx="243.8" cy="275.5" r="1.7" fill="#000"/>
<circle cx="255.3" cy="275.5" r="1.7" fill="#000"/>
<circle cx="266.9" cy="267.4" r="1.7" fill="#000"/>
<circle cx="278.4" cy="275.3" r="1.7" fill="#000"/>
<path d="M163.0,282.0 L174.5,214.9 L186.1,258.3 L197.6,252.8 L209.2,247.0 L220.7,243.7 L232.2,242.3 L243.8,251.0 L255.3,243.7 L266.9,252.8 L278.4,265.6" fill="none" stroke="#000" stroke-width="0.8" stroke-dasharray="2,1"/>
<line x1="174.54" y1="206.4" x2="174.54" y2="222.9" stroke="#000" stroke-width="0.7" />
<line x1="172.84" y1="206.4" x2="176.23999999999998" y2="206.4" stroke="#000" stroke-width="0.8" />
<line x1="172.84" y1="222.9" x2="176.23999999999998" y2="222.9" stroke="#000" stroke-width="0.8" />
<line x1="186.07999999999998" y1="256.8" x2="186.07999999999998" y2="259.8" stroke="#000" stroke-width="0.7" />
<line x1="184.38" y1="256.8" x2="187.77999999999997" y2="256.8" stroke="#000" stroke-width="0.8" />
<line x1="184.38" y1="259.8" x2="187.77999999999997" y2="259.8" stroke="#000" stroke-width="0.8" />
<line x1="197.62" y1="251.60000000000002" x2="197.62" y2="254.0" stroke="#000" stroke-width="0.7" />
<line x1="195.92000000000002" y1="251.60000000000002" x2="199.32" y2="251.60000000000002" stroke="#000" stroke-width="0.8" />
<line x1="195.92000000000002" y1="254.0" x2="199.32" y2="254.0" stroke="#000" stroke-width="0.8" />
<line x1="209.16" y1="244" x2="209.16" y2="250" stroke="#000" stroke-width="0.7" />
<line x1="207.46" y1="244" x2="210.85999999999999" y2="244" stroke="#000" stroke-width="0.8" />
<line x1="207.46" y1="250" x2="210.85999999999999" y2="250" stroke="#000" stroke-width="0.8" />
<line x1="220.7" y1="242.2" x2="220.7" y2="245.2" stroke="#000" stroke-width="0.7" />
<line x1="219.0" y1="242.2" x2="222.39999999999998" y2="242.2" stroke="#000" stroke-width="0.8" />
<line x1="219.0" y1="245.2" x2="222.39999999999998" y2="245.2" stroke="#000" stroke-width="0.8" />
<line x1="232.24" y1="238.8" x2="232.24" y2="245.8" stroke="#000" stroke-width="0.7" />
<line x1="230.54000000000002" y1="238.8" x2="233.94" y2="238.8" stroke="#000" stroke-width="0.8" />
<line x1="230.54000000000002" y1="245.8" x2="233.94" y2="245.8" stroke="#000" stroke-width="0.8" />
<line x1="243.78" y1="249.5" x2="243.78" y2="252.5" stroke="#000" stroke-width="0.7" />
<line x1="242.08" y1="249.5" x2="245.48" y2="249.5" stroke="#000" stroke-width="0.8" />
<line x1="242.08" y1="252.5" x2="245.48" y2="252.5" stroke="#000" stroke-width="0.8" />
<line x1="255.32" y1="242.2" x2="255.32" y2="245.2" stroke="#000" stroke-width="0.7" />
<line x1="253.62" y1="242.2" x2="257.02" y2="242.2" stroke="#000" stroke-width="0.8" />
<line x1="253.62" y1="245.2" x2="257.02" y2="245.2" stroke="#000" stroke-width="0.8" />
<line x1="266.86" y1="251.60000000000002" x2="266.86" y2="254.0" stroke="#000" stroke-width="0.7" />
<line x1="265.16" y1="251.60000000000002" x2="268.56" y2="251.60000000000002" stroke="#000" stroke-width="0.8" />
<line x1="265.16" y1="254.0" x2="268.56" y2="254.0" stroke="#000" stroke-width="0.8" />
<line x1="278.4" y1="263.8" x2="278.4" y2="267.40000000000003" stroke="#000" stroke-width="0.7" />
<line x1="276.7" y1="263.8" x2="280.09999999999997" y2="263.8" stroke="#000" stroke-width="0.8" />
<line x1="276.7" y1="267.40000000000003" x2="280.09999999999997" y2="267.40000000000003" stroke="#000" stroke-width="0.8" />
<rect x="161.3" y="280.3" width="3.4" height="3.4" fill="#000"/>
<rect x="172.84" y="213.20000000000002" width="3.4" height="3.4" fill="#000"/>
<rect x="184.38" y="256.6" width="3.4" height="3.4" fill="#000"/>
<rect x="195.92000000000002" y="251.10000000000002" width="3.4" height="3.4" fill="#000"/>
<rect x="207.46" y="245.3" width="3.4" height="3.4" fill="#000"/>
<rect x="219.0" y="242.0" width="3.4" height="3.4" fill="#000"/>
<rect x="230.54000000000002" y="240.60000000000002" width="3.4" height="3.4" fill="#000"/>
<rect x="242.08" y="249.3" width="3.4" height="3.4" fill="#000"/>
<rect x="253.62" y="242.0" width="3.4" height="3.4" fill="#000"/>
<rect x="265.16" y="251.10000000000002" width="3.4" height="3.4" fill="#000"/>
<rect x="276.7" y="263.90000000000003" width="3.4" height="3.4" fill="#000"/>
<text x="156.6" y="236.6" font-size="6.9" text-anchor="middle" textLength="16" lengthAdjust="spacingAndGlyphs" transform="rotate(-90 156.6 236.6)" >Score</text>
<text x="207.6" y="297.2" font-size="7.4" textLength="44.6" lengthAdjust="spacingAndGlyphs" >Days after BMT</text>
<line x1="252.8" y1="292.4" x2="252.4" y2="293.8" stroke="#333" stroke-width="0.5" />
<line x1="25" y1="303.9" x2="33.4" y2="303.9" stroke="#000" stroke-width="1.0" />
<circle cx="29.2" cy="303.9" r="1.8" fill="#000"/>
<line x1="25" y1="313.6" x2="33.4" y2="313.6" stroke="#000" stroke-width="1.0" stroke-dasharray="1.6,1"/>
<rect x="27.4" y="311.8" width="3.6" height="3.6" fill="#000"/>
<path d="M29.1,320.2 l1.9,3.4 h-3.8 z" fill="#000"/>
<g transform="translate(58.25,306.1) scale(1.136,1.120)" fill="none" stroke="#111" stroke-width="0.62"><circle cx="2.05" cy="-3.55" r="1.45"/><path d="M2.05,-2.1 V0.5 M0.95,-0.8 H3.15"/></g>
<g transform="translate(96.48,306.1) scale(1.136,1.120)" fill="none" stroke="#111" stroke-width="0.62"><path d="M0.3,-2.1 H3.4" stroke-width="1.25"/><path d="M5.0,-2.1 L2.2,-4.2 L3.0,-2.1 L2.2,0 Z" fill="#111" stroke="none"/></g>
<g transform="translate(115.18,306.1) scale(1.136,1.120)" fill="none" stroke="#111" stroke-width="0.62"><circle cx="2.05" cy="-3.55" r="1.45"/><path d="M2.05,-2.1 V0.5 M0.95,-0.8 H3.15"/></g>
<g transform="translate(122.20,306.1) scale(1.136,1.120)" fill="none" stroke="#111" stroke-width="0.62"><path d="M0.3,-2.1 H3.4" stroke-width="1.25"/><path d="M5.0,-2.1 L2.2,-4.2 L3.0,-2.1 L2.2,0 Z" fill="#111" stroke="none"/></g>
<g transform="translate(147.01,306.1) scale(1.136,1.120)" fill="none" stroke="#111" stroke-width="0.62"><circle cx="2.05" cy="-3.55" r="1.45"/><path d="M2.05,-2.1 V0.5 M0.95,-0.8 H3.15"/></g>
<text font-size="7.0"><tspan x="47.60" y="306.1" textLength="10.65" lengthAdjust="spacingAndGlyphs">B6(</tspan><tspan x="62.91" y="306.1" textLength="33.57" lengthAdjust="spacingAndGlyphs">)+MataHari</tspan><tspan x="102.16" y="306.1" textLength="13.01" lengthAdjust="spacingAndGlyphs">[B6(</tspan><tspan x="119.83" y="306.1" textLength="2.36" lengthAdjust="spacingAndGlyphs">)</tspan><tspan x="127.88" y="306.1" textLength="19.13" lengthAdjust="spacingAndGlyphs">Ly5.2(</tspan><tspan x="151.66" y="306.1" textLength="22.34" lengthAdjust="spacingAndGlyphs">)] (n=3)</tspan></text>
<g transform="translate(58.08,315.8) scale(1.118,1.120)" fill="none" stroke="#111" stroke-width="0.62"><circle cx="2.05" cy="-3.55" r="1.45"/><path d="M2.05,-2.1 V0.5 M0.95,-0.8 H3.15"/></g>
<g transform="translate(95.70,315.8) scale(1.118,1.120)" fill="none" stroke="#111" stroke-width="0.62"><path d="M0.3,-2.1 H3.4" stroke-width="1.25"/><path d="M5.0,-2.1 L2.2,-4.2 L3.0,-2.1 L2.2,0 Z" fill="#111" stroke="none"/></g>
<g transform="translate(114.10,315.8) scale(1.118,1.120)" fill="none" stroke="#111" stroke-width="0.62"><circle cx="1.95" cy="-1.75" r="1.5"/><path d="M3.0,-2.85 L4.5,-4.5 M3.1,-4.6 H4.6 V-3.1"/></g>
<g transform="translate(122.02,315.8) scale(1.118,1.120)" fill="none" stroke="#111" stroke-width="0.62"><path d="M0.3,-2.1 H3.4" stroke-width="1.25"/><path d="M5.0,-2.1 L2.2,-4.2 L3.0,-2.1 L2.2,0 Z" fill="#111" stroke="none"/></g>
<g transform="translate(146.43,315.8) scale(1.118,1.120)" fill="none" stroke="#111" stroke-width="0.62"><circle cx="1.95" cy="-1.75" r="1.5"/><path d="M3.0,-2.85 L4.5,-4.5 M3.1,-4.6 H4.6 V-3.1"/></g>
<text font-size="7.0"><tspan x="47.60" y="315.8" textLength="10.48" lengthAdjust="spacingAndGlyphs">B6(</tspan><tspan x="62.66" y="315.8" textLength="33.04" lengthAdjust="spacingAndGlyphs">)+MataHari</tspan><tspan x="101.29" y="315.8" textLength="12.81" lengthAdjust="spacingAndGlyphs">[B6(</tspan><tspan x="119.69" y="315.8" textLength="2.33" lengthAdjust="spacingAndGlyphs">)</tspan><tspan x="127.61" y="315.8" textLength="18.82" lengthAdjust="spacingAndGlyphs">Ly5.2(</tspan><tspan x="152.02" y="315.8" textLength="21.98" lengthAdjust="spacingAndGlyphs">)] (n=6)</tspan></text>
<g transform="translate(73.70,323.7) scale(1.122,1.120)" fill="none" stroke="#111" stroke-width="0.62"><circle cx="2.05" cy="-3.55" r="1.45"/><path d="M2.05,-2.1 V0.5 M0.95,-0.8 H3.15"/></g>
<g transform="translate(111.45,323.7) scale(1.122,1.120)" fill="none" stroke="#111" stroke-width="0.62"><path d="M0.3,-2.1 H3.4" stroke-width="1.25"/><path d="M5.0,-2.1 L2.2,-4.2 L3.0,-2.1 L2.2,0 Z" fill="#111" stroke="none"/></g>
<g transform="translate(147.24,323.7) scale(1.122,1.120)" fill="none" stroke="#111" stroke-width="0.62"><circle cx="1.95" cy="-1.75" r="1.5"/><path d="M3.0,-2.85 L4.5,-4.5 M3.1,-4.6 H4.6 V-3.1"/></g>
<g transform="translate(155.19,323.7) scale(1.122,1.120)" fill="none" stroke="#111" stroke-width="0.62"><path d="M0.3,-2.1 H3.4" stroke-width="1.25"/><path d="M5.0,-2.1 L2.2,-4.2 L3.0,-2.1 L2.2,0 Z" fill="#111" stroke="none"/></g>
<g transform="translate(179.68,323.7) scale(1.122,1.120)" fill="none" stroke="#111" stroke-width="0.62"><circle cx="1.95" cy="-1.75" r="1.5"/><path d="M3.0,-2.85 L4.5,-4.5 M3.1,-4.6 H4.6 V-3.1"/></g>
<text font-size="7.0"><tspan x="47.60" y="323.7" textLength="20.12" lengthAdjust="spacingAndGlyphs">β2MG </tspan><tspan x="67.72" y="320.76" font-size="3.85" textLength="3.64" lengthAdjust="spacingAndGlyphs">-/-</tspan><tspan x="71.36" y="323.7" textLength="2.33" lengthAdjust="spacingAndGlyphs">(</tspan><tspan x="78.30" y="323.7" textLength="33.15" lengthAdjust="spacingAndGlyphs">)+MataHari</tspan><tspan x="117.06" y="323.7" textLength="22.46" lengthAdjust="spacingAndGlyphs">[β2MG </tspan><tspan x="139.51" y="320.76" font-size="3.85" textLength="3.64" lengthAdjust="spacingAndGlyphs">-/-</tspan><tspan x="143.15" y="323.7" textLength="4.09" lengthAdjust="spacingAndGlyphs">( </tspan><tspan x="152.85" y="323.7" textLength="2.33" lengthAdjust="spacingAndGlyphs">)</tspan><tspan x="160.79" y="323.7" textLength="18.89" lengthAdjust="spacingAndGlyphs">Ly5.2(</tspan><tspan x="185.29" y="323.7" textLength="23.81" lengthAdjust="spacingAndGlyphs">)]  (n=6)</tspan></text>
<text x="297" y="172.2" font-size="10.5" class="s" font-weight="bold" fill="#000" stroke="none" >F</text>
<text x="305.2" y="193.9" font-size="5.9" textLength="16" lengthAdjust="spacingAndGlyphs" >[CPM]</text>
<path d="M332.6,196.5 V191 H357.6 V196.5" fill="none" stroke="#000" stroke-width="1.0"/>
<text x="345.1" y="189.5" font-size="5.8" text-anchor="middle" fill="#222" stroke="none" >p=0.01</text>
<line x1="319.6" y1="200.6" x2="319.6" y2="280.2" stroke="#444" stroke-width="0.6" />
<line x1="318.1" y1="280.2" x2="370" y2="280.2" stroke="#222" stroke-width="0.8" />
<line x1="317.8" y1="201.2" x2="319.6" y2="201.2" stroke="#444" stroke-width="0.6" />
<text x="317.20000000000005" y="202.39999999999998" font-size="3.4" class="s" text-anchor="end" fill="#888" stroke="none" >600</text>
<line x1="317.8" y1="227.6" x2="319.6" y2="227.6" stroke="#444" stroke-width="0.6" />
<text x="317.20000000000005" y="228.79999999999998" font-size="3.4" class="s" text-anchor="end" fill="#888" stroke="none" >400</text>
<line x1="317.8" y1="254" x2="319.6" y2="254" stroke="#444" stroke-width="0.6" />
<text x="317.20000000000005" y="255.2" font-size="3.4" class="s" text-anchor="end" fill="#888" stroke="none" >200</text>
<line x1="317.8" y1="280.2" x2="319.6" y2="280.2" stroke="#444" stroke-width="0.6" />
<text x="317.20000000000005" y="281.4" font-size="3.4" class="s" text-anchor="end" fill="#888" stroke="none" ></text>
<line x1="332.5" y1="280.2" x2="332.5" y2="282.4" stroke="#444" stroke-width="0.6" />
<line x1="358" y1="280.2" x2="358" y2="282.4" stroke="#444" stroke-width="0.6" />
<line x1="332.5" y1="256.2" x2="332.5" y2="260.2" stroke="#000" stroke-width="0.8" />
<line x1="327.9" y1="256.2" x2="337.1" y2="256.2" stroke="#000" stroke-width="1.0" />
<rect x="324.2" y="260.59999999999997" width="16.599999999999977" height="19.6" fill="#fff" stroke="#222" stroke-width="0.8"/>
<line x1="323.8" y1="260.7" x2="341.2" y2="260.7" stroke="#000" stroke-width="1.3" />
<line x1="357.9" y1="208.8" x2="357.9" y2="219.6" stroke="#000" stroke-width="0.8" />
<line x1="353.29999999999995" y1="208.8" x2="362.5" y2="208.8" stroke="#000" stroke-width="1.0" />
<rect x="349.6" y="219.6" width="16.599999999999966" height="60.599999999999994" fill="#000"/>
<rect x="319.8" y="294.8" width="3.6" height="5" fill="#fff" stroke="#000" stroke-width="1.2"/>
<g transform="translate(330.00,300.2) scale(1.106,1.184)" fill="none" stroke="#111" stroke-width="0.62"><circle cx="2.05" cy="-3.55" r="1.45"/><path d="M2.05,-2.1 V0.5 M0.95,-0.8 H3.15"/></g>
<text font-size="7.4"><tspan x="334.54" y="300.2" textLength="46.46" lengthAdjust="spacingAndGlyphs"> -endothelial cell</tspan></text>
<rect x="319.4" y="303.8" width="4.4" height="6.2" fill="#000"/>
<g transform="translate(330.00,309.3) scale(1.106,1.184)" fill="none" stroke="#111" stroke-width="0.62"><circle cx="1.95" cy="-1.75" r="1.5"/><path d="M3.0,-2.85 L4.5,-4.5 M3.1,-4.6 H4.6 V-3.1"/></g>
<text font-size="7.4"><tspan x="335.53" y="309.3" textLength="46.47" lengthAdjust="spacingAndGlyphs"> -endothelial cell</tspan></text>
<text x="370.6" y="172.2" font-size="10.5" class="s" font-weight="bold" fill="#000" stroke="none" >G</text>
<text x="378" y="195.8" font-size="5.9" textLength="16" lengthAdjust="spacingAndGlyphs" >[CPM]</text>
<path d="M405.6,196.8 V191.9 H429.8 V196.8" fill="none" stroke="#000" stroke-width="1.0"/>
<text x="417.70000000000005" y="190.4" font-size="5.8" text-anchor="middle" fill="#222" stroke="none" >p=0.004</text>
<line x1="392.6" y1="200" x2="392.6" y2="280.2" stroke="#444" stroke-width="0.6" />
<line x1="391.1" y1="280.2" x2="444" y2="280.2" stroke="#222" stroke-width="0.8" />
<line x1="390.8" y1="201.2" x2="392.6" y2="201.2" stroke="#444" stroke-width="0.6" />
<text x="390.20000000000005" y="202.39999999999998" font-size="3.4" class="s" text-anchor="end" fill="#888" stroke="none" >200</text>
<line x1="390.8" y1="221" x2="392.6" y2="221" stroke="#444" stroke-width="0.6" />
<text x="390.20000000000005" y="222.2" font-size="3.4" class="s" text-anchor="end" fill="#888" stroke="none" >150</text>
<line x1="390.8" y1="240.8" x2="392.6" y2="240.8" stroke="#444" stroke-width="0.6" />
<text x="390.20000000000005" y="242.0" font-size="3.4" class="s" text-anchor="end" fill="#888" stroke="none" >100</text>
<line x1="390.8" y1="260.4" x2="392.6" y2="260.4" stroke="#444" stroke-width="0.6" />
<text x="390.20000000000005" y="261.59999999999997" font-size="3.4" class="s" text-anchor="end" fill="#888" stroke="none" >50</text>
<line x1="390.8" y1="280.2" x2="392.6" y2="280.2" stroke="#444" stroke-width="0.6" />
<text x="390.20000000000005" y="281.4" font-size="3.4" class="s" text-anchor="end" fill="#888" stroke="none" ></text>
<line x1="405.5" y1="280.2" x2="405.5" y2="282.4" stroke="#444" stroke-width="0.6" />
<line x1="431.3" y1="280.2" x2="431.3" y2="282.4" stroke="#444" stroke-width="0.6" />
<line x1="405.2" y1="264.4" x2="405.2" y2="265.6" stroke="#000" stroke-width="0.8" />
<line x1="400.59999999999997" y1="264.4" x2="409.8" y2="264.4" stroke="#000" stroke-width="1.0" />
<rect x="396.59999999999997" y="266.0" width="17.2" height="14.199999999999966" fill="#fff" stroke="#222" stroke-width="0.8"/>
<line x1="396.2" y1="266.1" x2="414.2" y2="266.1" stroke="#000" stroke-width="1.3" />
<line x1="431.3" y1="214.6" x2="431.3" y2="220.8" stroke="#000" stroke-width="0.8" />
<line x1="426.7" y1="214.6" x2="435.90000000000003" y2="214.6" stroke="#000" stroke-width="1.0" />
<rect x="422.6" y="220.8" width="17.399999999999977" height="59.39999999999998" fill="#000"/>
<rect x="395.8" y="293.4" width="3.6" height="5" fill="#fff" stroke="#000" stroke-width="1.2"/>
<g transform="translate(404.50,298.6) scale(1.106,1.184)" fill="none" stroke="#111" stroke-width="0.62"><circle cx="2.05" cy="-3.55" r="1.45"/><path d="M2.05,-2.1 V0.5 M0.95,-0.8 H3.15"/></g>
<text font-size="7.4"><tspan x="409.04" y="298.6" textLength="41.46" lengthAdjust="spacingAndGlyphs"> -epithelial cell</tspan></text>
<rect x="395.4" y="302.4" width="4.4" height="5.8" fill="#000"/>
<g transform="translate(404.50,307.4) scale(1.092,1.184)" fill="none" stroke="#111" stroke-width="0.62"><circle cx="1.95" cy="-1.75" r="1.5"/><path d="M3.0,-2.85 L4.5,-4.5 M3.1,-4.6 H4.6 V-3.1"/></g>
<text font-size="7.4"><tspan x="409.96" y="307.4" textLength="40.94" lengthAdjust="spacingAndGlyphs"> -epithelial cell</tspan></text>
<text x="445" y="172.2" font-size="10.5" class="s" font-weight="bold" fill="#000" stroke="none" >H</text>
<text x="451" y="196" font-size="5.9" textLength="16.2" lengthAdjust="spacingAndGlyphs" >[CPM]</text>
<path d="M479.6,198.8 V193.4 H504.3 V198.8" fill="none" stroke="#000" stroke-width="1.0"/>
<text x="491.95000000000005" y="191.9" font-size="5.8" text-anchor="middle" fill="#222" stroke="none" >p=0.02</text>
<line x1="467" y1="199.2" x2="467" y2="280" stroke="#444" stroke-width="0.6" />
<line x1="465.5" y1="280" x2="520" y2="280" stroke="#222" stroke-width="0.8" />
<line x1="465.2" y1="200.2" x2="467" y2="200.2" stroke="#444" stroke-width="0.6" />
<text x="464.6" y="201.39999999999998" font-size="3.4" class="s" text-anchor="end" fill="#888" stroke="none" >80</text>
<line x1="465.2" y1="220.2" x2="467" y2="220.2" stroke="#444" stroke-width="0.6" />
<text x="464.6" y="221.39999999999998" font-size="3.4" class="s" text-anchor="end" fill="#888" stroke="none" >60</text>
<line x1="465.2" y1="240.2" x2="467" y2="240.2" stroke="#444" stroke-width="0.6" />
<text x="464.6" y="241.39999999999998" font-size="3.4" class="s" text-anchor="end" fill="#888" stroke="none" >40</text>
<line x1="465.2" y1="260.2" x2="467" y2="260.2" stroke="#444" stroke-width="0.6" />
<text x="464.6" y="261.4" font-size="3.4" class="s" text-anchor="end" fill="#888" stroke="none" >20</text>
<line x1="465.2" y1="280.2" x2="467" y2="280.2" stroke="#444" stroke-width="0.6" />
<text x="464.6" y="281.4" font-size="3.4" class="s" text-anchor="end" fill="#888" stroke="none" ></text>
<line x1="480.5" y1="280" x2="480.5" y2="282.2" stroke="#444" stroke-width="0.6" />
<line x1="505.8" y1="280" x2="505.8" y2="282.2" stroke="#444" stroke-width="0.6" />
<line x1="480.0" y1="264.4" x2="480.0" y2="268" stroke="#000" stroke-width="0.8" />
<line x1="475.4" y1="264.4" x2="484.6" y2="264.4" stroke="#000" stroke-width="1.0" />
<rect x="471.59999999999997" y="268.4" width="16.800000000000022" height="11.6" fill="#fff" stroke="#222" stroke-width="0.8"/>
<line x1="471.2" y1="268.5" x2="488.8" y2="268.5" stroke="#000" stroke-width="1.3" />
<line x1="506.1" y1="210.6" x2="506.1" y2="223" stroke="#000" stroke-width="0.8" />
<line x1="501.5" y1="210.6" x2="510.70000000000005" y2="210.6" stroke="#000" stroke-width="1.0" />
<rect x="497.6" y="223" width="17.0" height="57" fill="#000"/>
<rect x="478" y="291.6" width="3.4" height="5.6" fill="#fff" stroke="#000" stroke-width="1.2"/>
<text x="486.2" y="297.2" font-size="7.4" textLength="7.6" lengthAdjust="spacingAndGlyphs" >B6</text>
<rect x="477.4" y="300.4" width="4.2" height="6" fill="#000"/>
<text x="486.2" y="305.9" font-size="7.4" textLength="23.2" lengthAdjust="spacingAndGlyphs" >BALB/c</text>
<rect x="4.6" y="353.6" width="1.9" height="7.6" fill="#000"/>
<text x="27" y="359.6" font-size="7.4" textLength="64.2" lengthAdjust="spacingAndGlyphs" >Liver Endothelial Cells</text>
<text x="9.5" y="371.6" font-size="7.4" textLength="15.6" lengthAdjust="spacingAndGlyphs" >Naive</text>
<text font-size="7.4"><tspan x="198.00" y="370.6" textLength="39.50" lengthAdjust="spacingAndGlyphs">IFN-γ (48Hrs)</tspan></text>
<path d="M14.5,456.5 L14.5,455.8 L15.0,455.3 L15.5,455.2 L16.0,455.2 L16.5,454.5 L17.0,454.6 L17.5,454.2 L18.0,454.4 L18.5,454.2 L19.0,453.4 L19.5,452.8 L20.0,452.5 L20.5,451.6 L21.0,450.8 L21.5,450.5 L22.0,449.7 L22.5,448.1 L23.0,446.2 L23.5,445.4 L24.0,443.3 L24.5,442.5 L25.0,438.2 L25.5,437.1 L26.0,434.4 L26.5,430.5 L27.0,425.0 L27.5,422.9 L28.0,417.0 L28.5,410.3 L29.0,410.3 L29.5,403.8 L30.0,403.9 L30.5,399.8 L31.0,402.7 L31.5,405.0 L32.0,409.7 L32.5,413.2 L33.0,422.3 L33.5,425.4 L34.0,431.3 L34.5,436.6 L35.0,438.8 L35.5,441.0 L36.0,443.1 L36.5,444.5 L37.0,446.1 L37.5,447.6 L38.0,448.7 L38.5,449.5 L39.0,450.0 L39.5,450.7 L40.0,451.4 L40.5,452.2 L41.0,452.5 L41.5,453.1 L42.0,453.3 L42.5,453.4 L43.0,454.0 L43.5,454.4 L44.0,454.5 L44.5,454.5 L45.0,454.2 L45.5,454.1 L46.0,454.5 L46.5,454.7 L47.0,454.5 L47.5,454.9 L48.0,454.8 L48.5,455.1 L49.0,455.2 L49.5,455.2 L50.0,455.2 L50.5,455.4 L51.1,456.1 L51.7,455.5 L52.3,456.3 L52.9,455.6 L53.5,455.6 L54.1,455.8 L54.7,455.3 L55.3,455.8 L55.9,455.7 L56.5,455.7 L57.1,455.7 L57.7,456.0 L58.3,454.3 L58.9,455.4 L59.5,455.4 L60.1,455.9 L60.7,456.3 L61.3,455.4 L61.9,454.2 L62.5,456.1 L63.1,454.1 L63.7,455.8 L64.3,456.0 L64.9,455.6 L65.5,456.1 L66.1,455.6 L66.7,455.8 L67.3,455.4 L67.9,455.5 L68.5,456.0 L69.1,454.4 L69.7,456.1 L70.3,455.5 L70.9,455.0 L71.5,454.5 L72.1,455.3 L72.7,455.6 L73.3,456.1 L73.9,455.2 L74.5,455.7 L75.1,455.0 L75.7,456.0 L76.3,454.7 L76.9,454.3 L77.5,455.7 L78.1,456.3 L78.7,455.4 L79.3,455.5 L79.9,455.7 L80.5,455.9 L81.1,456.1 L81.7,456.0 L82.0,456.5 Z" fill="#000"/>
<rect x="13" y="386.3" width="70" height="70.19999999999999" fill="none" stroke="#444" stroke-width="0.6"/>
<text x="48.6" y="384.90000000000003" font-size="4.9" class="s" text-anchor="middle" fill="#333" stroke="none" >Gate: P2</text>
<text x="43.0" y="409.79999999999995" font-size="3.8" class="s" fill="#333" stroke="none" >M1</text>
<text x="43.0" y="414.79999999999995" font-size="4.3" class="s" fill="#333" stroke="none" >2.5%</text>
<line x1="42.6" y1="416.4" x2="61.4" y2="416.4" stroke="#333" stroke-width="0.6" />
<line x1="42.6" y1="414.59999999999997" x2="42.6" y2="418.2" stroke="#333" stroke-width="0.6" />
<line x1="61.4" y1="414.59999999999997" x2="61.4" y2="418.2" stroke="#333" stroke-width="0.6" />
<line x1="11.7" y1="386.3" x2="13" y2="386.3" stroke="#444" stroke-width="0.5" />
<text x="9.8" y="386.3" font-size="3.4" class="s" text-anchor="middle" transform="rotate(-90 9.8 386.3)" fill="#444" stroke="none" font-weight="bold">300</text>
<line x1="11.7" y1="409.6766" x2="13" y2="409.6766" stroke="#444" stroke-width="0.5" />
<text x="9.8" y="409.6766" font-size="3.4" class="s" text-anchor="middle" transform="rotate(-90 9.8 409.6766)" fill="#444" stroke="none" font-weight="bold">200</text>
<line x1="11.7" y1="433.1234" x2="13" y2="433.1234" stroke="#444" stroke-width="0.5" />
<text x="9.8" y="433.1234" font-size="3.4" class="s" text-anchor="middle" transform="rotate(-90 9.8 433.1234)" fill="#444" stroke="none" font-weight="bold">100</text>
<line x1="11.7" y1="456.5" x2="13" y2="456.5" stroke="#444" stroke-width="0.5" />
<text x="9.8" y="456.5" font-size="3.4" class="s" text-anchor="middle" transform="rotate(-90 9.8 456.5)" fill="#444" stroke="none" font-weight="bold">0</text>
<text x="4.4" y="429.824" font-size="3.6" class="s" text-anchor="middle" transform="rotate(-90 4.4 429.824)" fill="#444" stroke="none" >Count</text>
<line x1="13.8" y1="456.5" x2="13.8" y2="457.7" stroke="#444" stroke-width="0.5" />
<text x="13.600000000000001" y="461.1" font-size="3.8" class="s" text-anchor="middle" fill="#444" stroke="none" font-style="italic" font-weight="bold">.2</text>
<line x1="25.166666666666668" y1="456.5" x2="25.166666666666668" y2="457.7" stroke="#444" stroke-width="0.5" />
<text x="24.96666666666667" y="461.1" font-size="3.8" class="s" text-anchor="middle" fill="#444" stroke="none" font-style="italic" font-weight="bold">.3</text>
<line x1="36.53333333333333" y1="456.5" x2="36.53333333333333" y2="457.7" stroke="#444" stroke-width="0.5" />
<text x="36.33333333333333" y="461.1" font-size="3.8" class="s" text-anchor="middle" fill="#444" stroke="none" font-style="italic" font-weight="bold">.4</text>
<line x1="47.900000000000006" y1="456.5" x2="47.900000000000006" y2="457.7" stroke="#444" stroke-width="0.5" />
<text x="47.7" y="461.1" font-size="3.8" class="s" text-anchor="middle" fill="#444" stroke="none" font-style="italic" font-weight="bold">.5</text>
<line x1="59.266666666666666" y1="456.5" x2="59.266666666666666" y2="457.7" stroke="#444" stroke-width="0.5" />
<text x="59.06666666666666" y="461.1" font-size="3.8" class="s" text-anchor="middle" fill="#444" stroke="none" font-style="italic" font-weight="bold">.6</text>
<line x1="70.63333333333334" y1="456.5" x2="70.63333333333334" y2="457.7" stroke="#444" stroke-width="0.5" />
<text x="70.43333333333334" y="461.1" font-size="3.8" class="s" text-anchor="middle" fill="#444" stroke="none" font-style="italic" font-weight="bold">.7</text>
<line x1="82.0" y1="456.5" x2="82.0" y2="457.7" stroke="#444" stroke-width="0.5" />
<text x="81.8" y="461.1" font-size="3.8" class="s" text-anchor="middle" fill="#444" stroke="none" font-style="italic" font-weight="bold">.2</text>
<line x1="16.073333333333334" y1="456.5" x2="16.073333333333334" y2="457.2" stroke="#777" stroke-width="0.3" />
<line x1="18.346666666666668" y1="456.5" x2="18.346666666666668" y2="457.2" stroke="#777" stroke-width="0.3" />
<line x1="20.62" y1="456.5" x2="20.62" y2="457.2" stroke="#777" stroke-width="0.3" />
<line x1="22.893333333333334" y1="456.5" x2="22.893333333333334" y2="457.2" stroke="#777" stroke-width="0.3" />
<line x1="25.166666666666668" y1="456.5" x2="25.166666666666668" y2="457.2" stroke="#777" stroke-width="0.3" />
<line x1="27.440000000000005" y1="456.5" x2="27.440000000000005" y2="457.2" stroke="#777" stroke-width="0.3" />
<line x1="29.713333333333335" y1="456.5" x2="29.713333333333335" y2="457.2" stroke="#777" stroke-width="0.3" />
<line x1="31.986666666666668" y1="456.5" x2="31.986666666666668" y2="457.2" stroke="#777" stroke-width="0.3" />
<line x1="34.260000000000005" y1="456.5" x2="34.260000000000005" y2="457.2" stroke="#777" stroke-width="0.3" />
<line x1="36.53333333333333" y1="456.5" x2="36.53333333333333" y2="457.2" stroke="#777" stroke-width="0.3" />
<line x1="38.80666666666667" y1="456.5" x2="38.80666666666667" y2="457.2" stroke="#777" stroke-width="0.3" />
<line x1="41.080000000000005" y1="456.5" x2="41.080000000000005" y2="457.2" stroke="#777" stroke-width="0.3" />
<line x1="43.35333333333334" y1="456.5" x2="43.35333333333334" y2="457.2" stroke="#777" stroke-width="0.3" />
<line x1="45.626666666666665" y1="456.5" x2="45.626666666666665" y2="457.2" stroke="#777" stroke-width="0.3" />
<line x1="47.900000000000006" y1="456.5" x2="47.900000000000006" y2="457.2" stroke="#777" stroke-width="0.3" />
<line x1="50.17333333333333" y1="456.5" x2="50.17333333333333" y2="457.2" stroke="#777" stroke-width="0.3" />
<line x1="52.44666666666667" y1="456.5" x2="52.44666666666667" y2="457.2" stroke="#777" stroke-width="0.3" />
<line x1="54.72" y1="456.5" x2="54.72" y2="457.2" stroke="#777" stroke-width="0.3" />
<line x1="56.99333333333334" y1="456.5" x2="56.99333333333334" y2="457.2" stroke="#777" stroke-width="0.3" />
<line x1="59.266666666666666" y1="456.5" x2="59.266666666666666" y2="457.2" stroke="#777" stroke-width="0.3" />
<line x1="61.540000000000006" y1="456.5" x2="61.540000000000006" y2="457.2" stroke="#777" stroke-width="0.3" />
<line x1="63.81333333333333" y1="456.5" x2="63.81333333333333" y2="457.2" stroke="#777" stroke-width="0.3" />
<line x1="66.08666666666667" y1="456.5" x2="66.08666666666667" y2="457.2" stroke="#777" stroke-width="0.3" />
<line x1="68.36000000000001" y1="456.5" x2="68.36000000000001" y2="457.2" stroke="#777" stroke-width="0.3" />
<line x1="70.63333333333334" y1="456.5" x2="70.63333333333334" y2="457.2" stroke="#777" stroke-width="0.3" />
<line x1="72.90666666666667" y1="456.5" x2="72.90666666666667" y2="457.2" stroke="#777" stroke-width="0.3" />
<line x1="75.18" y1="456.5" x2="75.18" y2="457.2" stroke="#777" stroke-width="0.3" />
<line x1="77.45333333333333" y1="456.5" x2="77.45333333333333" y2="457.2" stroke="#777" stroke-width="0.3" />
<line x1="79.72666666666667" y1="456.5" x2="79.72666666666667" y2="457.2" stroke="#777" stroke-width="0.3" />
<text x="47.6" y="467.9" font-size="3.4" class="s" text-anchor="middle" fill="#444" stroke="none" >iso-A</text>
<path d="M113.8,457.0 L113.8,456.7 L114.3,455.8 L114.8,456.1 L115.3,455.5 L115.8,455.4 L116.3,454.8 L116.8,454.6 L117.3,454.9 L117.8,454.5 L118.3,453.7 L118.8,452.9 L119.3,452.6 L119.8,452.0 L120.3,451.2 L120.8,449.6 L121.3,448.4 L121.8,447.7 L122.3,446.0 L122.8,445.2 L123.3,442.6 L123.8,440.5 L124.3,436.4 L124.8,436.7 L125.3,432.9 L125.8,427.8 L126.3,425.2 L126.8,421.0 L127.3,415.2 L127.8,417.0 L128.3,409.6 L128.8,407.5 L129.3,404.8 L129.8,414.5 L130.3,420.7 L130.8,424.5 L131.3,428.9 L131.8,428.2 L132.3,432.4 L132.8,432.2 L133.3,435.9 L133.8,437.9 L134.3,439.9 L134.8,440.7 L135.3,440.5 L135.8,441.1 L136.3,440.6 L136.8,440.9 L137.3,444.4 L137.8,443.0 L138.3,444.0 L138.8,442.9 L139.3,443.9 L139.8,444.2 L140.3,444.2 L140.8,444.3 L141.3,446.9 L141.8,446.0 L142.3,446.7 L142.8,448.8 L143.3,447.4 L143.8,449.7 L144.3,449.3 L144.8,450.1 L145.3,452.0 L145.8,452.5 L146.3,452.8 L146.8,452.4 L147.3,453.0 L147.8,452.9 L148.3,453.8 L148.8,454.1 L149.3,454.3 L149.8,455.0 L150.3,455.1 L150.8,455.0 L151.3,454.9 L151.8,455.1 L152.3,455.6 L152.8,456.1 L153.3,456.3 L153.8,456.0 L154.3,456.2 L154.8,456.5 L155.3,456.5 L155.9,456.3 L156.5,456.8 L157.1,456.7 L157.7,456.6 L158.3,456.6 L158.9,456.6 L159.5,456.3 L160.1,456.2 L160.7,455.9 L161.3,455.0 L161.9,456.3 L162.5,456.7 L163.1,456.3 L163.7,456.7 L164.3,455.5 L164.9,455.9 L165.5,456.5 L166.1,455.5 L166.7,456.1 L167.3,456.5 L167.9,455.1 L168.5,456.3 L169.1,456.3 L169.7,456.2 L170.3,456.5 L170.9,455.9 L171.5,456.0 L172.1,456.2 L172.7,456.3 L173.3,456.4 L173.9,456.7 L174.5,455.9 L175.1,455.8 L175.7,456.8 L176.3,456.0 L176.9,456.3 L177.5,456.3 L177.8,457.0 Z" fill="#000"/>
<rect x="107.5" y="387.5" width="71.30000000000001" height="69.5" fill="none" stroke="#444" stroke-width="0.6"/>
<text x="143.75" y="386.1" font-size="4.9" class="s" text-anchor="middle" fill="#333" stroke="none" >Gate: P2</text>
<text x="137.6" y="412.2" font-size="3.8" class="s" fill="#333" stroke="none" >M1</text>
<text x="137.6" y="417.2" font-size="4.3" class="s" fill="#333" stroke="none" >17.4%</text>
<line x1="137.2" y1="418.8" x2="156.4" y2="418.8" stroke="#333" stroke-width="0.6" />
<line x1="137.2" y1="417.0" x2="137.2" y2="420.6" stroke="#333" stroke-width="0.6" />
<line x1="156.4" y1="417.0" x2="156.4" y2="420.6" stroke="#333" stroke-width="0.6" />
<line x1="106.2" y1="387.5" x2="107.5" y2="387.5" stroke="#444" stroke-width="0.5" />
<text x="104.3" y="387.5" font-size="3.4" class="s" text-anchor="middle" transform="rotate(-90 104.3 387.5)" fill="#444" stroke="none" font-weight="bold">300</text>
<line x1="106.2" y1="410.6435" x2="107.5" y2="410.6435" stroke="#444" stroke-width="0.5" />
<text x="104.3" y="410.6435" font-size="3.4" class="s" text-anchor="middle" transform="rotate(-90 104.3 410.6435)" fill="#444" stroke="none" font-weight="bold">200</text>
<line x1="106.2" y1="433.8565" x2="107.5" y2="433.8565" stroke="#444" stroke-width="0.5" />
<text x="104.3" y="433.8565" font-size="3.4" class="s" text-anchor="middle" transform="rotate(-90 104.3 433.8565)" fill="#444" stroke="none" font-weight="bold">100</text>
<line x1="106.2" y1="457.0" x2="107.5" y2="457.0" stroke="#444" stroke-width="0.5" />
<text x="104.3" y="457.0" font-size="3.4" class="s" text-anchor="middle" transform="rotate(-90 104.3 457.0)" fill="#444" stroke="none" font-weight="bold">0</text>
<text x="98.9" y="430.59" font-size="3.6" class="s" text-anchor="middle" transform="rotate(-90 98.9 430.59)" fill="#444" stroke="none" >Count</text>
<line x1="108.3" y1="457" x2="108.3" y2="458.2" stroke="#444" stroke-width="0.5" />
<text x="108.1" y="461.6" font-size="3.8" class="s" text-anchor="middle" fill="#444" stroke="none" font-style="italic" font-weight="bold">.2</text>
<line x1="119.88333333333333" y1="457" x2="119.88333333333333" y2="458.2" stroke="#444" stroke-width="0.5" />
<text x="119.68333333333332" y="461.6" font-size="3.8" class="s" text-anchor="middle" fill="#444" stroke="none" font-style="italic" font-weight="bold">.3</text>
<line x1="131.46666666666667" y1="457" x2="131.46666666666667" y2="458.2" stroke="#444" stroke-width="0.5" />
<text x="131.26666666666668" y="461.6" font-size="3.8" class="s" text-anchor="middle" fill="#444" stroke="none" font-style="italic" font-weight="bold">.4</text>
<line x1="143.05" y1="457" x2="143.05" y2="458.2" stroke="#444" stroke-width="0.5" />
<text x="142.85000000000002" y="461.6" font-size="3.8" class="s" text-anchor="middle" fill="#444" stroke="none" font-style="italic" font-weight="bold">.5</text>
<line x1="154.63333333333333" y1="457" x2="154.63333333333333" y2="458.2" stroke="#444" stroke-width="0.5" />
<text x="154.43333333333334" y="461.6" font-size="3.8" class="s" text-anchor="middle" fill="#444" stroke="none" font-style="italic" font-weight="bold">.6</text>
<line x1="166.21666666666667" y1="457" x2="166.21666666666667" y2="458.2" stroke="#444" stroke-width="0.5" />
<text x="166.01666666666668" y="461.6" font-size="3.8" class="s" text-anchor="middle" fill="#444" stroke="none" font-style="italic" font-weight="bold">.7</text>
<line x1="177.8" y1="457" x2="177.8" y2="458.2" stroke="#444" stroke-width="0.5" />
<text x="177.60000000000002" y="461.6" font-size="3.8" class="s" text-anchor="middle" fill="#444" stroke="none" font-style="italic" font-weight="bold">.2</text>
<line x1="110.61666666666666" y1="457" x2="110.61666666666666" y2="457.7" stroke="#777" stroke-width="0.3" />
<line x1="112.93333333333334" y1="457" x2="112.93333333333334" y2="457.7" stroke="#777" stroke-width="0.3" />
<line x1="115.25" y1="457" x2="115.25" y2="457.7" stroke="#777" stroke-width="0.3" />
<line x1="117.56666666666666" y1="457" x2="117.56666666666666" y2="457.7" stroke="#777" stroke-width="0.3" />
<line x1="119.88333333333333" y1="457" x2="119.88333333333333" y2="457.7" stroke="#777" stroke-width="0.3" />
<line x1="122.2" y1="457" x2="122.2" y2="457.7" stroke="#777" stroke-width="0.3" />
<line x1="124.51666666666667" y1="457" x2="124.51666666666667" y2="457.7" stroke="#777" stroke-width="0.3" />
<line x1="126.83333333333334" y1="457" x2="126.83333333333334" y2="457.7" stroke="#777" stroke-width="0.3" />
<line x1="129.15" y1="457" x2="129.15" y2="457.7" stroke="#777" stroke-width="0.3" />
<line x1="131.46666666666667" y1="457" x2="131.46666666666667" y2="457.7" stroke="#777" stroke-width="0.3" />
<line x1="133.78333333333333" y1="457" x2="133.78333333333333" y2="457.7" stroke="#777" stroke-width="0.3" />
<line x1="136.1" y1="457" x2="136.1" y2="457.7" stroke="#777" stroke-width="0.3" />
<line x1="138.41666666666669" y1="457" x2="138.41666666666669" y2="457.7" stroke="#777" stroke-width="0.3" />
<line x1="140.73333333333335" y1="457" x2="140.73333333333335" y2="457.7" stroke="#777" stroke-width="0.3" />
<line x1="143.05" y1="457" x2="143.05" y2="457.7" stroke="#777" stroke-width="0.3" />
<line x1="145.36666666666667" y1="457" x2="145.36666666666667" y2="457.7" stroke="#777" stroke-width="0.3" />
<line x1="147.68333333333334" y1="457" x2="147.68333333333334" y2="457.7" stroke="#777" stroke-width="0.3" />
<line x1="150.0" y1="457" x2="150.0" y2="457.7" stroke="#777" stroke-width="0.3" />
<line x1="152.31666666666666" y1="457" x2="152.31666666666666" y2="457.7" stroke="#777" stroke-width="0.3" />
<line x1="154.63333333333333" y1="457" x2="154.63333333333333" y2="457.7" stroke="#777" stroke-width="0.3" />
<line x1="156.95" y1="457" x2="156.95" y2="457.7" stroke="#777" stroke-width="0.3" />
<line x1="159.26666666666668" y1="457" x2="159.26666666666668" y2="457.7" stroke="#777" stroke-width="0.3" />
<line x1="161.58333333333334" y1="457" x2="161.58333333333334" y2="457.7" stroke="#777" stroke-width="0.3" />
<line x1="163.9" y1="457" x2="163.9" y2="457.7" stroke="#777" stroke-width="0.3" />
<line x1="166.21666666666667" y1="457" x2="166.21666666666667" y2="457.7" stroke="#777" stroke-width="0.3" />
<line x1="168.53333333333336" y1="457" x2="168.53333333333336" y2="457.7" stroke="#777" stroke-width="0.3" />
<line x1="170.85000000000002" y1="457" x2="170.85000000000002" y2="457.7" stroke="#777" stroke-width="0.3" />
<line x1="173.16666666666669" y1="457" x2="173.16666666666669" y2="457.7" stroke="#777" stroke-width="0.3" />
<line x1="175.48333333333335" y1="457" x2="175.48333333333335" y2="457.7" stroke="#777" stroke-width="0.3" />
<text x="142.75" y="468.4" font-size="3.4" class="s" text-anchor="middle" fill="#444" stroke="none" >I-Ab-A</text>
<path d="M211.3,458.0 L211.3,457.4 L211.8,456.9 L212.3,456.1 L212.8,455.7 L213.3,454.9 L213.8,454.9 L214.3,453.9 L214.8,452.7 L215.3,452.2 L215.8,451.1 L216.3,450.0 L216.8,447.9 L217.3,443.9 L217.8,442.7 L218.3,439.3 L218.8,436.1 L219.3,427.6 L219.8,420.9 L220.3,416.0 L220.8,402.7 L221.3,404.8 L221.8,396.9 L222.3,394.2 L222.8,393.1 L223.3,398.0 L223.8,402.2 L224.3,411.8 L224.8,419.0 L225.3,427.7 L225.8,432.8 L226.3,436.5 L226.8,441.7 L227.3,443.1 L227.8,447.2 L228.3,447.8 L228.8,449.8 L229.3,451.8 L229.8,453.0 L230.3,453.2 L230.8,453.9 L231.3,454.8 L231.8,455.0 L232.3,454.9 L232.8,455.3 L233.3,455.5 L233.8,455.7 L234.3,456.0 L234.8,456.3 L235.3,456.3 L235.8,456.5 L236.3,456.7 L236.8,456.9 L237.3,457.0 L237.8,457.1 L238.4,457.5 L239.0,456.3 L239.6,457.8 L240.2,457.2 L240.8,457.2 L241.4,457.7 L242.0,457.3 L242.6,457.4 L243.2,457.1 L243.8,457.7 L244.4,456.8 L245.0,457.3 L245.6,457.5 L246.2,457.5 L246.8,457.2 L247.4,457.4 L248.0,457.8 L248.6,457.1 L249.2,457.6 L249.8,456.7 L250.4,457.4 L251.0,457.7 L251.6,457.5 L252.2,456.4 L252.8,456.8 L253.4,457.1 L254.0,456.4 L254.6,457.7 L255.2,457.6 L255.8,455.8 L256.4,457.5 L257.0,456.1 L257.6,456.5 L258.2,457.5 L258.8,457.5 L259.4,457.4 L260.0,457.4 L260.6,456.8 L261.2,456.9 L261.8,455.6 L262.4,456.8 L263.0,456.7 L263.6,457.0 L264.2,457.3 L264.8,457.5 L265.4,457.7 L266.0,457.5 L266.6,456.9 L267.2,456.0 L267.8,455.7 L268.4,456.2 L269.0,457.1 L269.6,457.5 L270.2,457.3 L270.8,456.9 L271.0,458.0 Z" fill="#000"/>
<rect x="201.3" y="388" width="70.69999999999999" height="70" fill="none" stroke="#444" stroke-width="0.6"/>
<text x="237.25" y="386.6" font-size="4.9" class="s" text-anchor="middle" fill="#333" stroke="none" >Gate: P2</text>
<text x="230.0" y="411.0" font-size="3.8" class="s" fill="#333" stroke="none" >M1</text>
<text x="230.0" y="416.0" font-size="4.3" class="s" fill="#333" stroke="none" >5.1%</text>
<line x1="229.6" y1="417.6" x2="254.6" y2="417.6" stroke="#333" stroke-width="0.6" />
<line x1="229.6" y1="415.8" x2="229.6" y2="419.40000000000003" stroke="#333" stroke-width="0.6" />
<line x1="254.6" y1="415.8" x2="254.6" y2="419.40000000000003" stroke="#333" stroke-width="0.6" />
<line x1="200.0" y1="388" x2="201.3" y2="388" stroke="#444" stroke-width="0.5" />
<text x="198.10000000000002" y="388" font-size="3.4" class="s" text-anchor="middle" transform="rotate(-90 198.10000000000002 388)" fill="#444" stroke="none" font-weight="bold">60</text>
<line x1="200.0" y1="402.0" x2="201.3" y2="402.0" stroke="#444" stroke-width="0.5" />
<text x="198.10000000000002" y="402.0" font-size="3.4" class="s" text-anchor="middle" transform="rotate(-90 198.10000000000002 402.0)" fill="#444" stroke="none" font-weight="bold">40</text>
<line x1="200.0" y1="430.0" x2="201.3" y2="430.0" stroke="#444" stroke-width="0.5" />
<text x="198.10000000000002" y="430.0" font-size="3.4" class="s" text-anchor="middle" transform="rotate(-90 198.10000000000002 430.0)" fill="#444" stroke="none" font-weight="bold">20</text>
<line x1="200.0" y1="458" x2="201.3" y2="458" stroke="#444" stroke-width="0.5" />
<text x="198.10000000000002" y="458" font-size="3.4" class="s" text-anchor="middle" transform="rotate(-90 198.10000000000002 458)" fill="#444" stroke="none" font-weight="bold">0</text>
<text x="192.70000000000002" y="431.4" font-size="3.6" class="s" text-anchor="middle" transform="rotate(-90 192.70000000000002 431.4)" fill="#444" stroke="none" >Count</text>
<line x1="202.10000000000002" y1="458" x2="202.10000000000002" y2="459.2" stroke="#444" stroke-width="0.5" />
<text x="201.90000000000003" y="462.6" font-size="3.8" class="s" text-anchor="middle" fill="#444" stroke="none" font-style="italic" font-weight="bold">.2</text>
<line x1="213.58333333333334" y1="458" x2="213.58333333333334" y2="459.2" stroke="#444" stroke-width="0.5" />
<text x="213.38333333333335" y="462.6" font-size="3.8" class="s" text-anchor="middle" fill="#444" stroke="none" font-style="italic" font-weight="bold">.3</text>
<line x1="225.0666666666667" y1="458" x2="225.0666666666667" y2="459.2" stroke="#444" stroke-width="0.5" />
<text x="224.8666666666667" y="462.6" font-size="3.8" class="s" text-anchor="middle" fill="#444" stroke="none" font-style="italic" font-weight="bold">.4</text>
<line x1="236.55" y1="458" x2="236.55" y2="459.2" stroke="#444" stroke-width="0.5" />
<text x="236.35000000000002" y="462.6" font-size="3.8" class="s" text-anchor="middle" fill="#444" stroke="none" font-style="italic" font-weight="bold">.5</text>
<line x1="248.03333333333336" y1="458" x2="248.03333333333336" y2="459.2" stroke="#444" stroke-width="0.5" />
<text x="247.83333333333337" y="462.6" font-size="3.8" class="s" text-anchor="middle" fill="#444" stroke="none" font-style="italic" font-weight="bold">.6</text>
<line x1="259.51666666666665" y1="458" x2="259.51666666666665" y2="459.2" stroke="#444" stroke-width="0.5" />
<text x="259.31666666666666" y="462.6" font-size="3.8" class="s" text-anchor="middle" fill="#444" stroke="none" font-style="italic" font-weight="bold">.7</text>
<line x1="271.0" y1="458" x2="271.0" y2="459.2" stroke="#444" stroke-width="0.5" />
<text x="270.8" y="462.6" font-size="3.8" class="s" text-anchor="middle" fill="#444" stroke="none" font-style="italic" font-weight="bold">.2</text>
<line x1="204.39666666666668" y1="458" x2="204.39666666666668" y2="458.7" stroke="#777" stroke-width="0.3" />
<line x1="206.69333333333336" y1="458" x2="206.69333333333336" y2="458.7" stroke="#777" stroke-width="0.3" />
<line x1="208.99" y1="458" x2="208.99" y2="458.7" stroke="#777" stroke-width="0.3" />
<line x1="211.2866666666667" y1="458" x2="211.2866666666667" y2="458.7" stroke="#777" stroke-width="0.3" />
<line x1="213.58333333333334" y1="458" x2="213.58333333333334" y2="458.7" stroke="#777" stroke-width="0.3" />
<line x1="215.88000000000002" y1="458" x2="215.88000000000002" y2="458.7" stroke="#777" stroke-width="0.3" />
<line x1="218.17666666666668" y1="458" x2="218.17666666666668" y2="458.7" stroke="#777" stroke-width="0.3" />
<line x1="220.47333333333336" y1="458" x2="220.47333333333336" y2="458.7" stroke="#777" stroke-width="0.3" />
<line x1="222.77" y1="458" x2="222.77" y2="458.7" stroke="#777" stroke-width="0.3" />
<line x1="225.0666666666667" y1="458" x2="225.0666666666667" y2="458.7" stroke="#777" stroke-width="0.3" />
<line x1="227.36333333333334" y1="458" x2="227.36333333333334" y2="458.7" stroke="#777" stroke-width="0.3" />
<line x1="229.66000000000003" y1="458" x2="229.66000000000003" y2="458.7" stroke="#777" stroke-width="0.3" />
<line x1="231.95666666666668" y1="458" x2="231.95666666666668" y2="458.7" stroke="#777" stroke-width="0.3" />
<line x1="234.25333333333336" y1="458" x2="234.25333333333336" y2="458.7" stroke="#777" stroke-width="0.3" />
<line x1="236.55" y1="458" x2="236.55" y2="458.7" stroke="#777" stroke-width="0.3" />
<line x1="238.8466666666667" y1="458" x2="238.8466666666667" y2="458.7" stroke="#777" stroke-width="0.3" />
<line x1="241.14333333333335" y1="458" x2="241.14333333333335" y2="458.7" stroke="#777" stroke-width="0.3" />
<line x1="243.44000000000003" y1="458" x2="243.44000000000003" y2="458.7" stroke="#777" stroke-width="0.3" />
<line x1="245.73666666666668" y1="458" x2="245.73666666666668" y2="458.7" stroke="#777" stroke-width="0.3" />
<line x1="248.03333333333336" y1="458" x2="248.03333333333336" y2="458.7" stroke="#777" stroke-width="0.3" />
<line x1="250.33" y1="458" x2="250.33" y2="458.7" stroke="#777" stroke-width="0.3" />
<line x1="252.62666666666667" y1="458" x2="252.62666666666667" y2="458.7" stroke="#777" stroke-width="0.3" />
<line x1="254.92333333333335" y1="458" x2="254.92333333333335" y2="458.7" stroke="#777" stroke-width="0.3" />
<line x1="257.22" y1="458" x2="257.22" y2="458.7" stroke="#777" stroke-width="0.3" />
<line x1="259.51666666666665" y1="458" x2="259.51666666666665" y2="458.7" stroke="#777" stroke-width="0.3" />
<line x1="261.81333333333333" y1="458" x2="261.81333333333333" y2="458.7" stroke="#777" stroke-width="0.3" />
<line x1="264.11" y1="458" x2="264.11" y2="458.7" stroke="#777" stroke-width="0.3" />
<line x1="266.4066666666667" y1="458" x2="266.4066666666667" y2="458.7" stroke="#777" stroke-width="0.3" />
<line x1="268.7033333333334" y1="458" x2="268.7033333333334" y2="458.7" stroke="#777" stroke-width="0.3" />
<text x="236.25" y="469.4" font-size="3.4" class="s" text-anchor="middle" fill="#444" stroke="none" >iso-A</text>
<path d="M305.0,458.0 L305.0,457.1 L305.5,456.1 L306.0,455.0 L306.5,455.0 L307.0,453.6 L307.5,452.3 L308.0,449.5 L308.5,447.9 L309.0,447.7 L309.5,445.4 L310.0,441.6 L310.5,441.3 L311.0,439.4 L311.5,435.7 L312.0,432.3 L312.5,429.5 L313.0,431.2 L313.5,424.8 L314.0,425.9 L314.5,423.3 L315.0,416.2 L315.5,414.8 L316.0,406.5 L316.5,414.5 L317.0,408.1 L317.5,414.1 L318.0,419.5 L318.5,427.8 L319.0,424.8 L319.5,428.8 L320.0,428.8 L320.5,430.5 L321.0,436.3 L321.5,432.7 L322.0,438.7 L322.5,437.1 L323.0,438.5 L323.5,439.7 L324.0,445.1 L324.5,445.8 L325.0,444.4 L325.5,449.1 L326.0,449.2 L326.5,450.9 L327.0,451.1 L327.5,452.5 L328.0,454.1 L328.5,454.1 L329.0,454.5 L329.5,455.8 L330.0,455.9 L330.5,456.4 L331.1,457.7 L331.7,457.6 L332.3,457.7 L332.9,457.3 L333.5,456.8 L334.1,457.3 L334.7,457.4 L335.3,456.3 L335.9,457.4 L336.5,457.4 L337.1,456.9 L337.7,456.3 L338.3,457.5 L338.9,457.6 L339.5,456.9 L340.1,457.7 L340.7,456.2 L341.3,456.4 L341.9,456.1 L342.5,457.1 L343.1,457.7 L343.7,456.9 L344.3,455.7 L344.9,457.1 L345.5,457.2 L346.1,456.3 L346.7,457.1 L347.3,456.9 L347.9,456.9 L348.5,455.7 L349.1,457.8 L349.7,456.8 L350.3,456.1 L350.9,457.6 L351.5,457.2 L352.1,456.9 L352.7,457.8 L353.3,457.0 L353.9,456.8 L354.5,455.9 L355.1,456.2 L355.7,456.7 L356.3,457.5 L356.9,455.9 L357.5,457.3 L358.1,457.8 L358.5,458.0 Z" fill="#000"/>
<rect x="292" y="388" width="67.5" height="70" fill="none" stroke="#444" stroke-width="0.6"/>
<text x="326.35" y="386.6" font-size="4.9" class="s" text-anchor="middle" fill="#333" stroke="none" >Gate: P2</text>
<text x="318.0" y="411.4" font-size="3.8" class="s" fill="#333" stroke="none" >M1</text>
<text x="318.0" y="416.4" font-size="4.3" class="s" fill="#333" stroke="none" >35.2%</text>
<line x1="317.6" y1="418" x2="342.6" y2="418" stroke="#333" stroke-width="0.6" />
<line x1="317.6" y1="416.2" x2="317.6" y2="419.8" stroke="#333" stroke-width="0.6" />
<line x1="342.6" y1="416.2" x2="342.6" y2="419.8" stroke="#333" stroke-width="0.6" />
<line x1="290.7" y1="388" x2="292" y2="388" stroke="#444" stroke-width="0.5" />
<text x="288.8" y="388" font-size="3.4" class="s" text-anchor="middle" transform="rotate(-90 288.8 388)" fill="#444" stroke="none" font-weight="bold">60</text>
<line x1="290.7" y1="402.0" x2="292" y2="402.0" stroke="#444" stroke-width="0.5" />
<text x="288.8" y="402.0" font-size="3.4" class="s" text-anchor="middle" transform="rotate(-90 288.8 402.0)" fill="#444" stroke="none" font-weight="bold">40</text>
<line x1="290.7" y1="430.0" x2="292" y2="430.0" stroke="#444" stroke-width="0.5" />
<text x="288.8" y="430.0" font-size="3.4" class="s" text-anchor="middle" transform="rotate(-90 288.8 430.0)" fill="#444" stroke="none" font-weight="bold">20</text>
<line x1="290.7" y1="458" x2="292" y2="458" stroke="#444" stroke-width="0.5" />
<text x="288.8" y="458" font-size="3.4" class="s" text-anchor="middle" transform="rotate(-90 288.8 458)" fill="#444" stroke="none" font-weight="bold">0</text>
<text x="283.4" y="431.4" font-size="3.6" class="s" text-anchor="middle" transform="rotate(-90 283.4 431.4)" fill="#444" stroke="none" >Count</text>
<line x1="292.8" y1="458" x2="292.8" y2="459.2" stroke="#444" stroke-width="0.5" />
<text x="292.6" y="462.6" font-size="3.8" class="s" text-anchor="middle" fill="#444" stroke="none" font-style="italic" font-weight="bold">.2</text>
<line x1="303.75" y1="458" x2="303.75" y2="459.2" stroke="#444" stroke-width="0.5" />
<text x="303.55" y="462.6" font-size="3.8" class="s" text-anchor="middle" fill="#444" stroke="none" font-style="italic" font-weight="bold">.3</text>
<line x1="314.7" y1="458" x2="314.7" y2="459.2" stroke="#444" stroke-width="0.5" />
<text x="314.5" y="462.6" font-size="3.8" class="s" text-anchor="middle" fill="#444" stroke="none" font-style="italic" font-weight="bold">.4</text>
<line x1="325.65000000000003" y1="458" x2="325.65000000000003" y2="459.2" stroke="#444" stroke-width="0.5" />
<text x="325.45000000000005" y="462.6" font-size="3.8" class="s" text-anchor="middle" fill="#444" stroke="none" font-style="italic" font-weight="bold">.5</text>
<line x1="336.6" y1="458" x2="336.6" y2="459.2" stroke="#444" stroke-width="0.5" />
<text x="336.40000000000003" y="462.6" font-size="3.8" class="s" text-anchor="middle" fill="#444" stroke="none" font-style="italic" font-weight="bold">.6</text>
<line x1="347.55" y1="458" x2="347.55" y2="459.2" stroke="#444" stroke-width="0.5" />
<text x="347.35" y="462.6" font-size="3.8" class="s" text-anchor="middle" fill="#444" stroke="none" font-style="italic" font-weight="bold">.7</text>
<line x1="358.5" y1="458" x2="358.5" y2="459.2" stroke="#444" stroke-width="0.5" />
<text x="358.3" y="462.6" font-size="3.8" class="s" text-anchor="middle" fill="#444" stroke="none" font-style="italic" font-weight="bold">.2</text>
<line x1="294.99" y1="458" x2="294.99" y2="458.7" stroke="#777" stroke-width="0.3" />
<line x1="297.18" y1="458" x2="297.18" y2="458.7" stroke="#777" stroke-width="0.3" />
<line x1="299.37" y1="458" x2="299.37" y2="458.7" stroke="#777" stroke-width="0.3" />
<line x1="301.56" y1="458" x2="301.56" y2="458.7" stroke="#777" stroke-width="0.3" />
<line x1="303.75" y1="458" x2="303.75" y2="458.7" stroke="#777" stroke-width="0.3" />
<line x1="305.94" y1="458" x2="305.94" y2="458.7" stroke="#777" stroke-width="0.3" />
<line x1="308.13" y1="458" x2="308.13" y2="458.7" stroke="#777" stroke-width="0.3" />
<line x1="310.32" y1="458" x2="310.32" y2="458.7" stroke="#777" stroke-width="0.3" />
<line x1="312.51" y1="458" x2="312.51" y2="458.7" stroke="#777" stroke-width="0.3" />
<line x1="314.7" y1="458" x2="314.7" y2="458.7" stroke="#777" stroke-width="0.3" />
<line x1="316.89" y1="458" x2="316.89" y2="458.7" stroke="#777" stroke-width="0.3" />
<line x1="319.08000000000004" y1="458" x2="319.08000000000004" y2="458.7" stroke="#777" stroke-width="0.3" />
<line x1="321.27000000000004" y1="458" x2="321.27000000000004" y2="458.7" stroke="#777" stroke-width="0.3" />
<line x1="323.46000000000004" y1="458" x2="323.46000000000004" y2="458.7" stroke="#777" stroke-width="0.3" />
<line x1="325.65000000000003" y1="458" x2="325.65000000000003" y2="458.7" stroke="#777" stroke-width="0.3" />
<line x1="327.84000000000003" y1="458" x2="327.84000000000003" y2="458.7" stroke="#777" stroke-width="0.3" />
<line x1="330.03000000000003" y1="458" x2="330.03000000000003" y2="458.7" stroke="#777" stroke-width="0.3" />
<line x1="332.22" y1="458" x2="332.22" y2="458.7" stroke="#777" stroke-width="0.3" />
<line x1="334.41" y1="458" x2="334.41" y2="458.7" stroke="#777" stroke-width="0.3" />
<line x1="336.6" y1="458" x2="336.6" y2="458.7" stroke="#777" stroke-width="0.3" />
<line x1="338.79" y1="458" x2="338.79" y2="458.7" stroke="#777" stroke-width="0.3" />
<line x1="340.98" y1="458" x2="340.98" y2="458.7" stroke="#777" stroke-width="0.3" />
<line x1="343.17" y1="458" x2="343.17" y2="458.7" stroke="#777" stroke-width="0.3" />
<line x1="345.36" y1="458" x2="345.36" y2="458.7" stroke="#777" stroke-width="0.3" />
<line x1="347.55" y1="458" x2="347.55" y2="458.7" stroke="#777" stroke-width="0.3" />
<line x1="349.74" y1="458" x2="349.74" y2="458.7" stroke="#777" stroke-width="0.3" />
<line x1="351.93" y1="458" x2="351.93" y2="458.7" stroke="#777" stroke-width="0.3" />
<line x1="354.12" y1="458" x2="354.12" y2="458.7" stroke="#777" stroke-width="0.3" />
<line x1="356.31" y1="458" x2="356.31" y2="458.7" stroke="#777" stroke-width="0.3" />
<text x="325.35" y="469.4" font-size="3.4" class="s" text-anchor="middle" fill="#444" stroke="none" >I-Ab-A</text>
<text x="38.6" y="476.2" font-size="7.4" textLength="20" lengthAdjust="spacingAndGlyphs" >isotype</text>
<text x="136.2" y="478" font-size="7.4" >I-A<tspan font-size="5" dy="-2.4">b</tspan><tspan dy="2.4" font-size="0.1">&#8203;</tspan></text>
<text x="227.4" y="477" font-size="7.4" textLength="19.8" lengthAdjust="spacingAndGlyphs" >isotype</text>
<text x="315" y="477.2" font-size="7.4" >I-A<tspan font-size="5" dy="-2.4">b</tspan><tspan dy="2.4" font-size="0.1">&#8203;</tspan></text>
<text x="376" y="361" font-size="10.5" class="s" font-weight="bold" fill="#000" stroke="none" >J</text>
<text x="391" y="372.2" font-size="5.4" textLength="8" lengthAdjust="spacingAndGlyphs" >[%]</text>
<path d="M422.2,380.8 V374.8 H446.4 V380.8" fill="none" stroke="#000" stroke-width="1.0"/>
<text x="434.29999999999995" y="373.3" font-size="5.8" text-anchor="middle" fill="#222" stroke="none" >p=0.006</text>
<line x1="408.5" y1="378" x2="408.5" y2="459.2" stroke="#444" stroke-width="0.6" />
<line x1="407.0" y1="459.2" x2="463" y2="459.2" stroke="#222" stroke-width="0.8" />
<line x1="406.7" y1="379.5" x2="408.5" y2="379.5" stroke="#444" stroke-width="0.6" />
<text x="406.1" y="380.7" font-size="3.4" class="s" text-anchor="end" fill="#888" stroke="none" >4</text>
<line x1="406.7" y1="399.4" x2="408.5" y2="399.4" stroke="#444" stroke-width="0.6" />
<text x="406.1" y="400.59999999999997" font-size="3.4" class="s" text-anchor="end" fill="#888" stroke="none" >3</text>
<line x1="406.7" y1="419.2" x2="408.5" y2="419.2" stroke="#444" stroke-width="0.6" />
<text x="406.1" y="420.4" font-size="3.4" class="s" text-anchor="end" fill="#888" stroke="none" >2</text>
<line x1="406.7" y1="439.3" x2="408.5" y2="439.3" stroke="#444" stroke-width="0.6" />
<text x="406.1" y="440.5" font-size="3.4" class="s" text-anchor="end" fill="#888" stroke="none" >1</text>
<line x1="406.7" y1="459.2" x2="408.5" y2="459.2" stroke="#444" stroke-width="0.6" />
<text x="406.1" y="460.4" font-size="3.4" class="s" text-anchor="end" fill="#888" stroke="none" ></text>
<line x1="422.5" y1="459.2" x2="422.5" y2="461.4" stroke="#444" stroke-width="0.6" />
<line x1="449.4" y1="459.2" x2="449.4" y2="461.4" stroke="#444" stroke-width="0.6" />
<line x1="422.5" y1="424.9" x2="422.5" y2="427" stroke="#000" stroke-width="0.8" />
<line x1="417.9" y1="424.9" x2="427.1" y2="424.9" stroke="#000" stroke-width="1.0" />
<rect x="413.59999999999997" y="427.4" width="17.800000000000022" height="31.79999999999999" fill="#fff" stroke="#222" stroke-width="0.8"/>
<line x1="413.2" y1="427.5" x2="431.8" y2="427.5" stroke="#000" stroke-width="1.3" />
<line x1="449.2" y1="396.2" x2="449.2" y2="400.7" stroke="#000" stroke-width="0.8" />
<line x1="444.59999999999997" y1="396.2" x2="453.8" y2="396.2" stroke="#000" stroke-width="1.0" />
<rect x="440" y="400.7" width="18.399999999999977" height="58.5" fill="#000"/>
<rect x="479" y="369.8" width="3" height="4.4" fill="#fff" stroke="#000" stroke-width="1.1"/>
<text x="487.3" y="374.7" font-size="7.3" textLength="17" lengthAdjust="spacingAndGlyphs" >Naive</text>
<rect x="478.4" y="378.4" width="4" height="5.4" fill="#000"/>
<text x="489.6" y="384.2" font-size="7.3" textLength="15.4" lengthAdjust="spacingAndGlyphs" >IFN-r</text>
</g>
</svg>
</body></html>
